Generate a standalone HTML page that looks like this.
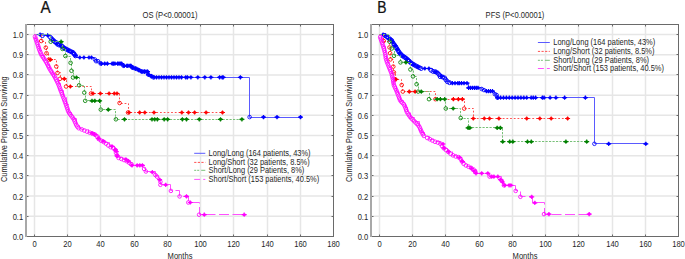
<!DOCTYPE html>
<html><head><meta charset="utf-8"><style>
html,body{margin:0;padding:0;background:#fff;}
svg{display:block;font-family:"Liberation Sans", sans-serif;}
</style></head><body>
<svg width="685" height="259" viewBox="0 0 685 259">
<rect width="685" height="259" fill="#fff"/>
<line x1="34.5" y1="24" x2="34.5" y2="236.5" stroke="#e6e6e6" stroke-width="1.5"/>
<line x1="67.5" y1="24" x2="67.5" y2="236.5" stroke="#e6e6e6" stroke-width="1.5"/>
<line x1="100.5" y1="24" x2="100.5" y2="236.5" stroke="#e6e6e6" stroke-width="1.5"/>
<line x1="134.5" y1="24" x2="134.5" y2="236.5" stroke="#e6e6e6" stroke-width="1.5"/>
<line x1="167.5" y1="24" x2="167.5" y2="236.5" stroke="#e6e6e6" stroke-width="1.5"/>
<line x1="200.5" y1="24" x2="200.5" y2="236.5" stroke="#e6e6e6" stroke-width="1.5"/>
<line x1="233.5" y1="24" x2="233.5" y2="236.5" stroke="#e6e6e6" stroke-width="1.5"/>
<line x1="267.5" y1="24" x2="267.5" y2="236.5" stroke="#e6e6e6" stroke-width="1.5"/>
<line x1="300.5" y1="24" x2="300.5" y2="236.5" stroke="#e6e6e6" stroke-width="1.5"/>
<line x1="26" y1="216.31" x2="333.5" y2="216.31" stroke="#e6e6e6" stroke-width="1.5"/>
<line x1="26" y1="196.12" x2="333.5" y2="196.12" stroke="#e6e6e6" stroke-width="1.5"/>
<line x1="26" y1="175.93" x2="333.5" y2="175.93" stroke="#e6e6e6" stroke-width="1.5"/>
<line x1="26" y1="155.74" x2="333.5" y2="155.74" stroke="#e6e6e6" stroke-width="1.5"/>
<line x1="26" y1="135.55" x2="333.5" y2="135.55" stroke="#e6e6e6" stroke-width="1.5"/>
<line x1="26" y1="115.36" x2="333.5" y2="115.36" stroke="#e6e6e6" stroke-width="1.5"/>
<line x1="26" y1="95.17" x2="333.5" y2="95.17" stroke="#e6e6e6" stroke-width="1.5"/>
<line x1="26" y1="74.98" x2="333.5" y2="74.98" stroke="#e6e6e6" stroke-width="1.5"/>
<line x1="26" y1="54.79" x2="333.5" y2="54.79" stroke="#e6e6e6" stroke-width="1.5"/>
<line x1="26" y1="34.6" x2="333.5" y2="34.6" stroke="#e6e6e6" stroke-width="1.5"/>
<path d="M26,24.5H334.0M333.5,24V237.0M26,236.5H334.0" fill="none" stroke="#6a6a6a" stroke-width="1"/>
<rect x="25" y="24" width="2" height="213.0" fill="#a8a8a8"/>
<line x1="34.5" y1="236.5" x2="34.5" y2="234.5" stroke="#6a6a6a" stroke-width="1"/>
<line x1="34.5" y1="24.5" x2="34.5" y2="26.5" stroke="#6a6a6a" stroke-width="1"/>
<text transform="translate(34.5,247.2) scale(1.0,1.15)" text-anchor="middle" font-size="7.6" fill="#262626">0</text>
<line x1="67.5" y1="236.5" x2="67.5" y2="234.5" stroke="#6a6a6a" stroke-width="1"/>
<line x1="67.5" y1="24.5" x2="67.5" y2="26.5" stroke="#6a6a6a" stroke-width="1"/>
<text transform="translate(67.5,247.2) scale(1.0,1.15)" text-anchor="middle" font-size="7.6" fill="#262626">20</text>
<line x1="100.5" y1="236.5" x2="100.5" y2="234.5" stroke="#6a6a6a" stroke-width="1"/>
<line x1="100.5" y1="24.5" x2="100.5" y2="26.5" stroke="#6a6a6a" stroke-width="1"/>
<text transform="translate(100.5,247.2) scale(1.0,1.15)" text-anchor="middle" font-size="7.6" fill="#262626">40</text>
<line x1="134.5" y1="236.5" x2="134.5" y2="234.5" stroke="#6a6a6a" stroke-width="1"/>
<line x1="134.5" y1="24.5" x2="134.5" y2="26.5" stroke="#6a6a6a" stroke-width="1"/>
<text transform="translate(134.5,247.2) scale(1.0,1.15)" text-anchor="middle" font-size="7.6" fill="#262626">60</text>
<line x1="167.5" y1="236.5" x2="167.5" y2="234.5" stroke="#6a6a6a" stroke-width="1"/>
<line x1="167.5" y1="24.5" x2="167.5" y2="26.5" stroke="#6a6a6a" stroke-width="1"/>
<text transform="translate(167.5,247.2) scale(1.0,1.15)" text-anchor="middle" font-size="7.6" fill="#262626">80</text>
<line x1="200.5" y1="236.5" x2="200.5" y2="234.5" stroke="#6a6a6a" stroke-width="1"/>
<line x1="200.5" y1="24.5" x2="200.5" y2="26.5" stroke="#6a6a6a" stroke-width="1"/>
<text transform="translate(200.5,247.2) scale(1.0,1.15)" text-anchor="middle" font-size="7.6" fill="#262626">100</text>
<line x1="233.5" y1="236.5" x2="233.5" y2="234.5" stroke="#6a6a6a" stroke-width="1"/>
<line x1="233.5" y1="24.5" x2="233.5" y2="26.5" stroke="#6a6a6a" stroke-width="1"/>
<text transform="translate(233.5,247.2) scale(1.0,1.15)" text-anchor="middle" font-size="7.6" fill="#262626">120</text>
<line x1="267.5" y1="236.5" x2="267.5" y2="234.5" stroke="#6a6a6a" stroke-width="1"/>
<line x1="267.5" y1="24.5" x2="267.5" y2="26.5" stroke="#6a6a6a" stroke-width="1"/>
<text transform="translate(267.5,247.2) scale(1.0,1.15)" text-anchor="middle" font-size="7.6" fill="#262626">140</text>
<line x1="300.5" y1="236.5" x2="300.5" y2="234.5" stroke="#6a6a6a" stroke-width="1"/>
<line x1="300.5" y1="24.5" x2="300.5" y2="26.5" stroke="#6a6a6a" stroke-width="1"/>
<text transform="translate(300.5,247.2) scale(1.0,1.15)" text-anchor="middle" font-size="7.6" fill="#262626">160</text>
<text transform="translate(333.5,247.2) scale(1.0,1.15)" text-anchor="middle" font-size="7.6" fill="#262626">180</text>
<text transform="translate(23.2,239.5) scale(1.0,1.15)" text-anchor="end" font-size="7.6" fill="#262626">0.0</text>
<line x1="27" y1="216.5" x2="28.5" y2="216.5" stroke="#6a6a6a" stroke-width="1"/>
<line x1="333.5" y1="216.5" x2="331.5" y2="216.5" stroke="#6a6a6a" stroke-width="1"/>
<text transform="translate(23.2,219.5) scale(1.0,1.15)" text-anchor="end" font-size="7.6" fill="#262626">0.1</text>
<line x1="27" y1="196.5" x2="28.5" y2="196.5" stroke="#6a6a6a" stroke-width="1"/>
<line x1="333.5" y1="196.5" x2="331.5" y2="196.5" stroke="#6a6a6a" stroke-width="1"/>
<text transform="translate(23.2,199.5) scale(1.0,1.15)" text-anchor="end" font-size="7.6" fill="#262626">0.2</text>
<line x1="27" y1="175.5" x2="28.5" y2="175.5" stroke="#6a6a6a" stroke-width="1"/>
<line x1="333.5" y1="175.5" x2="331.5" y2="175.5" stroke="#6a6a6a" stroke-width="1"/>
<text transform="translate(23.2,178.5) scale(1.0,1.15)" text-anchor="end" font-size="7.6" fill="#262626">0.3</text>
<line x1="27" y1="155.5" x2="28.5" y2="155.5" stroke="#6a6a6a" stroke-width="1"/>
<line x1="333.5" y1="155.5" x2="331.5" y2="155.5" stroke="#6a6a6a" stroke-width="1"/>
<text transform="translate(23.2,158.5) scale(1.0,1.15)" text-anchor="end" font-size="7.6" fill="#262626">0.4</text>
<line x1="27" y1="135.5" x2="28.5" y2="135.5" stroke="#6a6a6a" stroke-width="1"/>
<line x1="333.5" y1="135.5" x2="331.5" y2="135.5" stroke="#6a6a6a" stroke-width="1"/>
<text transform="translate(23.2,138.5) scale(1.0,1.15)" text-anchor="end" font-size="7.6" fill="#262626">0.5</text>
<line x1="27" y1="115.5" x2="28.5" y2="115.5" stroke="#6a6a6a" stroke-width="1"/>
<line x1="333.5" y1="115.5" x2="331.5" y2="115.5" stroke="#6a6a6a" stroke-width="1"/>
<text transform="translate(23.2,118.5) scale(1.0,1.15)" text-anchor="end" font-size="7.6" fill="#262626">0.6</text>
<line x1="27" y1="95.5" x2="28.5" y2="95.5" stroke="#6a6a6a" stroke-width="1"/>
<line x1="333.5" y1="95.5" x2="331.5" y2="95.5" stroke="#6a6a6a" stroke-width="1"/>
<text transform="translate(23.2,98.5) scale(1.0,1.15)" text-anchor="end" font-size="7.6" fill="#262626">0.7</text>
<line x1="27" y1="74.5" x2="28.5" y2="74.5" stroke="#6a6a6a" stroke-width="1"/>
<line x1="333.5" y1="74.5" x2="331.5" y2="74.5" stroke="#6a6a6a" stroke-width="1"/>
<text transform="translate(23.2,77.5) scale(1.0,1.15)" text-anchor="end" font-size="7.6" fill="#262626">0.8</text>
<line x1="27" y1="54.5" x2="28.5" y2="54.5" stroke="#6a6a6a" stroke-width="1"/>
<line x1="333.5" y1="54.5" x2="331.5" y2="54.5" stroke="#6a6a6a" stroke-width="1"/>
<text transform="translate(23.2,57.5) scale(1.0,1.15)" text-anchor="end" font-size="7.6" fill="#262626">0.9</text>
<line x1="27" y1="34.5" x2="28.5" y2="34.5" stroke="#6a6a6a" stroke-width="1"/>
<line x1="333.5" y1="34.5" x2="331.5" y2="34.5" stroke="#6a6a6a" stroke-width="1"/>
<text transform="translate(23.2,37.5) scale(1.0,1.15)" text-anchor="end" font-size="7.6" fill="#262626">1.0</text>
<text transform="translate(180,258.6) scale(1.0,1.15)" text-anchor="middle" font-size="7.6" fill="#262626">Months</text>
<text transform="translate(7,129.2) rotate(-90) scale(1,1.15)" text-anchor="middle" font-size="7.4" fill="#262626">Cumulative Proportion Surviving</text>
<text transform="translate(170,18) scale(1.0,1.15)" text-anchor="middle" font-size="7.6" fill="#262626">OS (P&lt;0.00001)</text>
<line x1="379.5" y1="24" x2="379.5" y2="236.5" stroke="#e6e6e6" stroke-width="1.5"/>
<line x1="412.5" y1="24" x2="412.5" y2="236.5" stroke="#e6e6e6" stroke-width="1.5"/>
<line x1="445.5" y1="24" x2="445.5" y2="236.5" stroke="#e6e6e6" stroke-width="1.5"/>
<line x1="479.5" y1="24" x2="479.5" y2="236.5" stroke="#e6e6e6" stroke-width="1.5"/>
<line x1="512.5" y1="24" x2="512.5" y2="236.5" stroke="#e6e6e6" stroke-width="1.5"/>
<line x1="545.5" y1="24" x2="545.5" y2="236.5" stroke="#e6e6e6" stroke-width="1.5"/>
<line x1="578.5" y1="24" x2="578.5" y2="236.5" stroke="#e6e6e6" stroke-width="1.5"/>
<line x1="612.5" y1="24" x2="612.5" y2="236.5" stroke="#e6e6e6" stroke-width="1.5"/>
<line x1="645.5" y1="24" x2="645.5" y2="236.5" stroke="#e6e6e6" stroke-width="1.5"/>
<line x1="371" y1="216.31" x2="678.5" y2="216.31" stroke="#e6e6e6" stroke-width="1.5"/>
<line x1="371" y1="196.12" x2="678.5" y2="196.12" stroke="#e6e6e6" stroke-width="1.5"/>
<line x1="371" y1="175.93" x2="678.5" y2="175.93" stroke="#e6e6e6" stroke-width="1.5"/>
<line x1="371" y1="155.74" x2="678.5" y2="155.74" stroke="#e6e6e6" stroke-width="1.5"/>
<line x1="371" y1="135.55" x2="678.5" y2="135.55" stroke="#e6e6e6" stroke-width="1.5"/>
<line x1="371" y1="115.36" x2="678.5" y2="115.36" stroke="#e6e6e6" stroke-width="1.5"/>
<line x1="371" y1="95.17" x2="678.5" y2="95.17" stroke="#e6e6e6" stroke-width="1.5"/>
<line x1="371" y1="74.98" x2="678.5" y2="74.98" stroke="#e6e6e6" stroke-width="1.5"/>
<line x1="371" y1="54.79" x2="678.5" y2="54.79" stroke="#e6e6e6" stroke-width="1.5"/>
<line x1="371" y1="34.6" x2="678.5" y2="34.6" stroke="#e6e6e6" stroke-width="1.5"/>
<path d="M371,24.5H679.0M678.5,24V237.0M371,236.5H679.0" fill="none" stroke="#6a6a6a" stroke-width="1"/>
<rect x="370" y="24" width="2" height="213.0" fill="#a8a8a8"/>
<line x1="379.5" y1="236.5" x2="379.5" y2="234.5" stroke="#6a6a6a" stroke-width="1"/>
<line x1="379.5" y1="24.5" x2="379.5" y2="26.5" stroke="#6a6a6a" stroke-width="1"/>
<text transform="translate(379.5,247.2) scale(1.0,1.15)" text-anchor="middle" font-size="7.6" fill="#262626">0</text>
<line x1="412.5" y1="236.5" x2="412.5" y2="234.5" stroke="#6a6a6a" stroke-width="1"/>
<line x1="412.5" y1="24.5" x2="412.5" y2="26.5" stroke="#6a6a6a" stroke-width="1"/>
<text transform="translate(412.5,247.2) scale(1.0,1.15)" text-anchor="middle" font-size="7.6" fill="#262626">20</text>
<line x1="445.5" y1="236.5" x2="445.5" y2="234.5" stroke="#6a6a6a" stroke-width="1"/>
<line x1="445.5" y1="24.5" x2="445.5" y2="26.5" stroke="#6a6a6a" stroke-width="1"/>
<text transform="translate(445.5,247.2) scale(1.0,1.15)" text-anchor="middle" font-size="7.6" fill="#262626">40</text>
<line x1="479.5" y1="236.5" x2="479.5" y2="234.5" stroke="#6a6a6a" stroke-width="1"/>
<line x1="479.5" y1="24.5" x2="479.5" y2="26.5" stroke="#6a6a6a" stroke-width="1"/>
<text transform="translate(479.5,247.2) scale(1.0,1.15)" text-anchor="middle" font-size="7.6" fill="#262626">60</text>
<line x1="512.5" y1="236.5" x2="512.5" y2="234.5" stroke="#6a6a6a" stroke-width="1"/>
<line x1="512.5" y1="24.5" x2="512.5" y2="26.5" stroke="#6a6a6a" stroke-width="1"/>
<text transform="translate(512.5,247.2) scale(1.0,1.15)" text-anchor="middle" font-size="7.6" fill="#262626">80</text>
<line x1="545.5" y1="236.5" x2="545.5" y2="234.5" stroke="#6a6a6a" stroke-width="1"/>
<line x1="545.5" y1="24.5" x2="545.5" y2="26.5" stroke="#6a6a6a" stroke-width="1"/>
<text transform="translate(545.5,247.2) scale(1.0,1.15)" text-anchor="middle" font-size="7.6" fill="#262626">100</text>
<line x1="578.5" y1="236.5" x2="578.5" y2="234.5" stroke="#6a6a6a" stroke-width="1"/>
<line x1="578.5" y1="24.5" x2="578.5" y2="26.5" stroke="#6a6a6a" stroke-width="1"/>
<text transform="translate(578.5,247.2) scale(1.0,1.15)" text-anchor="middle" font-size="7.6" fill="#262626">120</text>
<line x1="612.5" y1="236.5" x2="612.5" y2="234.5" stroke="#6a6a6a" stroke-width="1"/>
<line x1="612.5" y1="24.5" x2="612.5" y2="26.5" stroke="#6a6a6a" stroke-width="1"/>
<text transform="translate(612.5,247.2) scale(1.0,1.15)" text-anchor="middle" font-size="7.6" fill="#262626">140</text>
<line x1="645.5" y1="236.5" x2="645.5" y2="234.5" stroke="#6a6a6a" stroke-width="1"/>
<line x1="645.5" y1="24.5" x2="645.5" y2="26.5" stroke="#6a6a6a" stroke-width="1"/>
<text transform="translate(645.5,247.2) scale(1.0,1.15)" text-anchor="middle" font-size="7.6" fill="#262626">160</text>
<text transform="translate(678.5,247.2) scale(1.0,1.15)" text-anchor="middle" font-size="7.6" fill="#262626">180</text>
<text transform="translate(368.2,239.5) scale(1.0,1.15)" text-anchor="end" font-size="7.6" fill="#262626">0.0</text>
<line x1="372" y1="216.5" x2="373.5" y2="216.5" stroke="#6a6a6a" stroke-width="1"/>
<line x1="678.5" y1="216.5" x2="676.5" y2="216.5" stroke="#6a6a6a" stroke-width="1"/>
<text transform="translate(368.2,219.5) scale(1.0,1.15)" text-anchor="end" font-size="7.6" fill="#262626">0.1</text>
<line x1="372" y1="196.5" x2="373.5" y2="196.5" stroke="#6a6a6a" stroke-width="1"/>
<line x1="678.5" y1="196.5" x2="676.5" y2="196.5" stroke="#6a6a6a" stroke-width="1"/>
<text transform="translate(368.2,199.5) scale(1.0,1.15)" text-anchor="end" font-size="7.6" fill="#262626">0.2</text>
<line x1="372" y1="175.5" x2="373.5" y2="175.5" stroke="#6a6a6a" stroke-width="1"/>
<line x1="678.5" y1="175.5" x2="676.5" y2="175.5" stroke="#6a6a6a" stroke-width="1"/>
<text transform="translate(368.2,178.5) scale(1.0,1.15)" text-anchor="end" font-size="7.6" fill="#262626">0.3</text>
<line x1="372" y1="155.5" x2="373.5" y2="155.5" stroke="#6a6a6a" stroke-width="1"/>
<line x1="678.5" y1="155.5" x2="676.5" y2="155.5" stroke="#6a6a6a" stroke-width="1"/>
<text transform="translate(368.2,158.5) scale(1.0,1.15)" text-anchor="end" font-size="7.6" fill="#262626">0.4</text>
<line x1="372" y1="135.5" x2="373.5" y2="135.5" stroke="#6a6a6a" stroke-width="1"/>
<line x1="678.5" y1="135.5" x2="676.5" y2="135.5" stroke="#6a6a6a" stroke-width="1"/>
<text transform="translate(368.2,138.5) scale(1.0,1.15)" text-anchor="end" font-size="7.6" fill="#262626">0.5</text>
<line x1="372" y1="115.5" x2="373.5" y2="115.5" stroke="#6a6a6a" stroke-width="1"/>
<line x1="678.5" y1="115.5" x2="676.5" y2="115.5" stroke="#6a6a6a" stroke-width="1"/>
<text transform="translate(368.2,118.5) scale(1.0,1.15)" text-anchor="end" font-size="7.6" fill="#262626">0.6</text>
<line x1="372" y1="95.5" x2="373.5" y2="95.5" stroke="#6a6a6a" stroke-width="1"/>
<line x1="678.5" y1="95.5" x2="676.5" y2="95.5" stroke="#6a6a6a" stroke-width="1"/>
<text transform="translate(368.2,98.5) scale(1.0,1.15)" text-anchor="end" font-size="7.6" fill="#262626">0.7</text>
<line x1="372" y1="74.5" x2="373.5" y2="74.5" stroke="#6a6a6a" stroke-width="1"/>
<line x1="678.5" y1="74.5" x2="676.5" y2="74.5" stroke="#6a6a6a" stroke-width="1"/>
<text transform="translate(368.2,77.5) scale(1.0,1.15)" text-anchor="end" font-size="7.6" fill="#262626">0.8</text>
<line x1="372" y1="54.5" x2="373.5" y2="54.5" stroke="#6a6a6a" stroke-width="1"/>
<line x1="678.5" y1="54.5" x2="676.5" y2="54.5" stroke="#6a6a6a" stroke-width="1"/>
<text transform="translate(368.2,57.5) scale(1.0,1.15)" text-anchor="end" font-size="7.6" fill="#262626">0.9</text>
<line x1="372" y1="34.5" x2="373.5" y2="34.5" stroke="#6a6a6a" stroke-width="1"/>
<line x1="678.5" y1="34.5" x2="676.5" y2="34.5" stroke="#6a6a6a" stroke-width="1"/>
<text transform="translate(368.2,37.5) scale(1.0,1.15)" text-anchor="end" font-size="7.6" fill="#262626">1.0</text>
<text transform="translate(525,258.6) scale(1.0,1.15)" text-anchor="middle" font-size="7.6" fill="#262626">Months</text>
<text transform="translate(352,129.2) rotate(-90) scale(1,1.15)" text-anchor="middle" font-size="7.4" fill="#262626">Cumulative Proportion Surviving</text>
<text transform="translate(515,18) scale(1.0,1.15)" text-anchor="middle" font-size="7.6" fill="#262626">PFS (P&lt;0.00001)</text>
<text transform="translate(40.4,12.6) scale(0.93,1.0)" text-anchor="start" font-size="16.4" fill="#111" stroke="#111" stroke-width="0.25">A</text>
<text transform="translate(377.3,13) scale(0.85,1.0)" text-anchor="start" font-size="16.4" fill="#111" stroke="#111" stroke-width="0.25">B</text>
<path d="M34.5,34.5H40.5V34.5H42.5V35.5H47.5V35.5H49.5V35.5H50.5V37.5H52.5V39.5H54.5V41.5H56.5V42.5H56.5V43.5H59.5V45.5H61.5V45.5H63.5V47.5H66.5V49.5H69.5V50.5H73.5V52.5H75.5V55.5H76.5V57.5H93.5V57.5H94.5V59.5H96.5V61.5H99.5V61.5H100.5V63.5H121.5V63.5H123.5V65.5H131.5V65.5H132.5V67.5H136.5V68.5H139.5V70.5H141.5V71.5H147.5V71.5H148.5V74.5H151.5V76.5H153.5V77.5H249.5V77.5H249.5V117.5H300.5V117.5" fill="none" stroke="#5a5aff" stroke-width="1"/>
<circle cx="42.4" cy="35.6" r="2.0" fill="none" stroke="#0000ff" stroke-width="0.95"/>
<circle cx="50.45" cy="37.43" r="2.0" fill="none" stroke="#0000ff" stroke-width="0.95"/>
<circle cx="51.82" cy="38.9" r="2.0" fill="none" stroke="#0000ff" stroke-width="0.95"/>
<circle cx="53.22" cy="40.32" r="2.0" fill="none" stroke="#0000ff" stroke-width="0.95"/>
<circle cx="54.68" cy="41.67" r="2.0" fill="none" stroke="#0000ff" stroke-width="0.95"/>
<circle cx="56.31" cy="42.64" r="2.0" fill="none" stroke="#0000ff" stroke-width="0.95"/>
<circle cx="57.43" cy="44.18" r="2.0" fill="none" stroke="#0000ff" stroke-width="0.95"/>
<circle cx="59.21" cy="45.1" r="2.0" fill="none" stroke="#0000ff" stroke-width="0.95"/>
<circle cx="61.16" cy="45.53" r="2.0" fill="none" stroke="#0000ff" stroke-width="0.95"/>
<circle cx="62.64" cy="46.8" r="2.0" fill="none" stroke="#0000ff" stroke-width="0.95"/>
<circle cx="64.22" cy="48" r="2.0" fill="none" stroke="#0000ff" stroke-width="0.95"/>
<circle cx="65.94" cy="49.01" r="2.0" fill="none" stroke="#0000ff" stroke-width="0.95"/>
<circle cx="67.72" cy="49.93" r="2.0" fill="none" stroke="#0000ff" stroke-width="0.95"/>
<circle cx="69.49" cy="50.85" r="2.0" fill="none" stroke="#0000ff" stroke-width="0.95"/>
<circle cx="71.29" cy="51.72" r="2.0" fill="none" stroke="#0000ff" stroke-width="0.95"/>
<circle cx="73.09" cy="52.6" r="2.0" fill="none" stroke="#0000ff" stroke-width="0.95"/>
<circle cx="74.29" cy="54.19" r="2.0" fill="none" stroke="#0000ff" stroke-width="0.95"/>
<circle cx="75.44" cy="55.83" r="2.0" fill="none" stroke="#0000ff" stroke-width="0.95"/>
<circle cx="94.9" cy="59.5" r="1.8" fill="none" stroke="#0000ff" stroke-width="0.85"/>
<circle cx="96.1" cy="61.2" r="1.8" fill="none" stroke="#0000ff" stroke-width="0.85"/>
<circle cx="98" cy="61.2" r="1.8" fill="none" stroke="#0000ff" stroke-width="0.85"/>
<circle cx="100.7" cy="63.6" r="1.8" fill="none" stroke="#0000ff" stroke-width="0.85"/>
<circle cx="123.6" cy="65.8" r="1.8" fill="none" stroke="#0000ff" stroke-width="0.85"/>
<circle cx="132.4" cy="67.6" r="1.8" fill="none" stroke="#0000ff" stroke-width="0.85"/>
<circle cx="134.5" cy="68.2" r="1.8" fill="none" stroke="#0000ff" stroke-width="0.85"/>
<circle cx="136.5" cy="68.9" r="1.8" fill="none" stroke="#0000ff" stroke-width="0.85"/>
<circle cx="139.2" cy="70.3" r="1.8" fill="none" stroke="#0000ff" stroke-width="0.85"/>
<circle cx="141.9" cy="71.6" r="1.8" fill="none" stroke="#0000ff" stroke-width="0.85"/>
<circle cx="148.2" cy="74.5" r="1.8" fill="none" stroke="#0000ff" stroke-width="0.85"/>
<circle cx="151.4" cy="76.2" r="1.8" fill="none" stroke="#0000ff" stroke-width="0.85"/>
<circle cx="153.4" cy="77.3" r="1.8" fill="none" stroke="#0000ff" stroke-width="0.85"/>
<circle cx="249.6" cy="117.1" r="1.8" fill="none" stroke="#0000ff" stroke-width="0.85"/>
<path d="M51.13,40.73H56.13M53.63,38.63V42.83" stroke="#0000ff" stroke-width="1.2" fill="none"/>
<rect x="52.13" y="39.43" width="3" height="2.6" rx="0.7" fill="#0000ff"/>
<path d="M54.27,43.61H59.27M56.77,41.51V45.71" stroke="#0000ff" stroke-width="1.2" fill="none"/>
<rect x="55.27" y="42.31" width="3" height="2.6" rx="0.7" fill="#0000ff"/>
<path d="M58.25,45.44H63.25M60.75,43.34V47.54" stroke="#0000ff" stroke-width="1.2" fill="none"/>
<rect x="59.25" y="44.14" width="3" height="2.6" rx="0.7" fill="#0000ff"/>
<path d="M61.79,48.04H66.79M64.29,45.94V50.14" stroke="#0000ff" stroke-width="1.2" fill="none"/>
<rect x="62.79" y="46.74" width="3" height="2.6" rx="0.7" fill="#0000ff"/>
<path d="M65.73,50.2H70.73M68.23,48.1V52.3" stroke="#0000ff" stroke-width="1.2" fill="none"/>
<rect x="66.73" y="48.9" width="3" height="2.6" rx="0.7" fill="#0000ff"/>
<path d="M69.76,52.19H74.76M72.26,50.09V54.29" stroke="#0000ff" stroke-width="1.2" fill="none"/>
<rect x="70.76" y="50.89" width="3" height="2.6" rx="0.7" fill="#0000ff"/>
<path d="M72.74,55.46H77.74M75.24,53.36V57.56" stroke="#0000ff" stroke-width="1.2" fill="none"/>
<rect x="73.74" y="54.16" width="3" height="2.6" rx="0.7" fill="#0000ff"/>
<path d="M121.52,65.8H126.52M124.02,63.7V67.9" stroke="#0000ff" stroke-width="1.2" fill="none"/>
<rect x="122.52" y="64.5" width="3" height="2.6" rx="0.7" fill="#0000ff"/>
<path d="M124.72,65.8H129.72M127.22,63.7V67.9" stroke="#0000ff" stroke-width="1.2" fill="none"/>
<rect x="125.72" y="64.5" width="3" height="2.6" rx="0.7" fill="#0000ff"/>
<path d="M127.92,65.8H132.92M130.42,63.7V67.9" stroke="#0000ff" stroke-width="1.2" fill="none"/>
<rect x="128.92" y="64.5" width="3" height="2.6" rx="0.7" fill="#0000ff"/>
<path d="M130,67.63H135M132.5,65.53V69.73" stroke="#0000ff" stroke-width="1.2" fill="none"/>
<rect x="131" y="66.33" width="3" height="2.6" rx="0.7" fill="#0000ff"/>
<path d="M133.05,68.6H138.05M135.55,66.5V70.7" stroke="#0000ff" stroke-width="1.2" fill="none"/>
<rect x="134.05" y="67.3" width="3" height="2.6" rx="0.7" fill="#0000ff"/>
<path d="M135.96,69.92H140.96M138.46,67.82V72.02" stroke="#0000ff" stroke-width="1.2" fill="none"/>
<rect x="136.96" y="68.62" width="3" height="2.6" rx="0.7" fill="#0000ff"/>
<path d="M138.83,71.33H143.83M141.33,69.23V73.43" stroke="#0000ff" stroke-width="1.2" fill="none"/>
<rect x="139.83" y="70.03" width="3" height="2.6" rx="0.7" fill="#0000ff"/>
<path d="M141.97,71.6H146.97M144.47,69.5V73.7" stroke="#0000ff" stroke-width="1.2" fill="none"/>
<rect x="142.97" y="70.3" width="3" height="2.6" rx="0.7" fill="#0000ff"/>
<path d="M145.04,71.76H150.04M147.54,69.66V73.86" stroke="#0000ff" stroke-width="1.2" fill="none"/>
<rect x="146.04" y="70.46" width="3" height="2.6" rx="0.7" fill="#0000ff"/>
<path d="M146.04,74.68H151.04M148.54,72.58V76.78" stroke="#0000ff" stroke-width="1.2" fill="none"/>
<rect x="147.04" y="73.38" width="3" height="2.6" rx="0.7" fill="#0000ff"/>
<path d="M148.87,76.18H153.87M151.37,74.08V78.28" stroke="#0000ff" stroke-width="1.2" fill="none"/>
<rect x="149.87" y="74.88" width="3" height="2.6" rx="0.7" fill="#0000ff"/>
<path d="M37.6,34.6H42.6M40.1,32.5V36.7" stroke="#0000ff" stroke-width="1.2" fill="none"/>
<rect x="38.6" y="33.3" width="3" height="2.6" rx="0.7" fill="#0000ff"/>
<path d="M45.1,35.4H50.1M47.6,33.3V37.5" stroke="#0000ff" stroke-width="1.2" fill="none"/>
<rect x="46.1" y="34.1" width="3" height="2.6" rx="0.7" fill="#0000ff"/>
<path d="M77.3,57.5H82.3M79.8,55.4V59.6" stroke="#0000ff" stroke-width="1.2" fill="none"/>
<rect x="78.3" y="56.2" width="3" height="2.6" rx="0.7" fill="#0000ff"/>
<path d="M81.4,57.5H86.4M83.9,55.4V59.6" stroke="#0000ff" stroke-width="1.2" fill="none"/>
<rect x="82.4" y="56.2" width="3" height="2.6" rx="0.7" fill="#0000ff"/>
<path d="M86.5,57.5H91.5M89,55.4V59.6" stroke="#0000ff" stroke-width="1.2" fill="none"/>
<rect x="87.5" y="56.2" width="3" height="2.6" rx="0.7" fill="#0000ff"/>
<path d="M89,57.5H94M91.5,55.4V59.6" stroke="#0000ff" stroke-width="1.2" fill="none"/>
<rect x="90" y="56.2" width="3" height="2.6" rx="0.7" fill="#0000ff"/>
<path d="M99,63.6H104M101.5,61.5V65.7" stroke="#0000ff" stroke-width="1.2" fill="none"/>
<rect x="100" y="62.3" width="3" height="2.6" rx="0.7" fill="#0000ff"/>
<path d="M102.2,63.6H107.2M104.7,61.5V65.7" stroke="#0000ff" stroke-width="1.2" fill="none"/>
<rect x="103.2" y="62.3" width="3" height="2.6" rx="0.7" fill="#0000ff"/>
<path d="M104.9,63.6H109.9M107.4,61.5V65.7" stroke="#0000ff" stroke-width="1.2" fill="none"/>
<rect x="105.9" y="62.3" width="3" height="2.6" rx="0.7" fill="#0000ff"/>
<path d="M109.7,63.6H114.7M112.2,61.5V65.7" stroke="#0000ff" stroke-width="1.2" fill="none"/>
<rect x="110.7" y="62.3" width="3" height="2.6" rx="0.7" fill="#0000ff"/>
<path d="M111,63.6H116M113.5,61.5V65.7" stroke="#0000ff" stroke-width="1.2" fill="none"/>
<rect x="112" y="62.3" width="3" height="2.6" rx="0.7" fill="#0000ff"/>
<path d="M112.4,63.6H117.4M114.9,61.5V65.7" stroke="#0000ff" stroke-width="1.2" fill="none"/>
<rect x="113.4" y="62.3" width="3" height="2.6" rx="0.7" fill="#0000ff"/>
<path d="M115.1,63.6H120.1M117.6,61.5V65.7" stroke="#0000ff" stroke-width="1.2" fill="none"/>
<rect x="116.1" y="62.3" width="3" height="2.6" rx="0.7" fill="#0000ff"/>
<path d="M116.5,63.6H121.5M119,61.5V65.7" stroke="#0000ff" stroke-width="1.2" fill="none"/>
<rect x="117.5" y="62.3" width="3" height="2.6" rx="0.7" fill="#0000ff"/>
<path d="M117.8,63.6H122.8M120.3,61.5V65.7" stroke="#0000ff" stroke-width="1.2" fill="none"/>
<rect x="118.8" y="62.3" width="3" height="2.6" rx="0.7" fill="#0000ff"/>
<path d="M119.1,63.6H124.1M121.6,61.5V65.7" stroke="#0000ff" stroke-width="1.2" fill="none"/>
<rect x="120.1" y="62.3" width="3" height="2.6" rx="0.7" fill="#0000ff"/>
<path d="M124.5,65.8H129.5M127,63.7V67.9" stroke="#0000ff" stroke-width="1.2" fill="none"/>
<rect x="125.5" y="64.5" width="3" height="2.6" rx="0.7" fill="#0000ff"/>
<path d="M126.5,65.8H131.5M129,63.7V67.9" stroke="#0000ff" stroke-width="1.2" fill="none"/>
<rect x="127.5" y="64.5" width="3" height="2.6" rx="0.7" fill="#0000ff"/>
<path d="M128.5,65.8H133.5M131,63.7V67.9" stroke="#0000ff" stroke-width="1.2" fill="none"/>
<rect x="129.5" y="64.5" width="3" height="2.6" rx="0.7" fill="#0000ff"/>
<path d="M140.5,71.6H145.5M143,69.5V73.7" stroke="#0000ff" stroke-width="1.2" fill="none"/>
<rect x="141.5" y="70.3" width="3" height="2.6" rx="0.7" fill="#0000ff"/>
<path d="M142,71.6H147M144.5,69.5V73.7" stroke="#0000ff" stroke-width="1.2" fill="none"/>
<rect x="143" y="70.3" width="3" height="2.6" rx="0.7" fill="#0000ff"/>
<path d="M143.5,71.6H148.5M146,69.5V73.7" stroke="#0000ff" stroke-width="1.2" fill="none"/>
<rect x="144.5" y="70.3" width="3" height="2.6" rx="0.7" fill="#0000ff"/>
<path d="M145,71.6H150M147.5,69.5V73.7" stroke="#0000ff" stroke-width="1.2" fill="none"/>
<rect x="146" y="70.3" width="3" height="2.6" rx="0.7" fill="#0000ff"/>
<path d="M151.5,77.3H156.5M154,75.2V79.4" stroke="#0000ff" stroke-width="1.2" fill="none"/>
<rect x="152.5" y="76" width="3" height="2.6" rx="0.7" fill="#0000ff"/>
<path d="M154,77.3H159M156.5,75.2V79.4" stroke="#0000ff" stroke-width="1.2" fill="none"/>
<rect x="155" y="76" width="3" height="2.6" rx="0.7" fill="#0000ff"/>
<path d="M156.5,77.3H161.5M159,75.2V79.4" stroke="#0000ff" stroke-width="1.2" fill="none"/>
<rect x="157.5" y="76" width="3" height="2.6" rx="0.7" fill="#0000ff"/>
<path d="M159,77.3H164M161.5,75.2V79.4" stroke="#0000ff" stroke-width="1.2" fill="none"/>
<rect x="160" y="76" width="3" height="2.6" rx="0.7" fill="#0000ff"/>
<path d="M161.5,77.3H166.5M164,75.2V79.4" stroke="#0000ff" stroke-width="1.2" fill="none"/>
<rect x="162.5" y="76" width="3" height="2.6" rx="0.7" fill="#0000ff"/>
<path d="M164,77.3H169M166.5,75.2V79.4" stroke="#0000ff" stroke-width="1.2" fill="none"/>
<rect x="165" y="76" width="3" height="2.6" rx="0.7" fill="#0000ff"/>
<path d="M166.5,77.3H171.5M169,75.2V79.4" stroke="#0000ff" stroke-width="1.2" fill="none"/>
<rect x="167.5" y="76" width="3" height="2.6" rx="0.7" fill="#0000ff"/>
<path d="M169,77.3H174M171.5,75.2V79.4" stroke="#0000ff" stroke-width="1.2" fill="none"/>
<rect x="170" y="76" width="3" height="2.6" rx="0.7" fill="#0000ff"/>
<path d="M171.5,77.3H176.5M174,75.2V79.4" stroke="#0000ff" stroke-width="1.2" fill="none"/>
<rect x="172.5" y="76" width="3" height="2.6" rx="0.7" fill="#0000ff"/>
<path d="M174,77.3H179M176.5,75.2V79.4" stroke="#0000ff" stroke-width="1.2" fill="none"/>
<rect x="175" y="76" width="3" height="2.6" rx="0.7" fill="#0000ff"/>
<path d="M176.5,77.3H181.5M179,75.2V79.4" stroke="#0000ff" stroke-width="1.2" fill="none"/>
<rect x="177.5" y="76" width="3" height="2.6" rx="0.7" fill="#0000ff"/>
<path d="M179,77.3H184M181.5,75.2V79.4" stroke="#0000ff" stroke-width="1.2" fill="none"/>
<rect x="180" y="76" width="3" height="2.6" rx="0.7" fill="#0000ff"/>
<path d="M183.2,77.3H188.2M185.7,75.2V79.4" stroke="#0000ff" stroke-width="1.2" fill="none"/>
<rect x="184.2" y="76" width="3" height="2.6" rx="0.7" fill="#0000ff"/>
<path d="M184.9,77.3H189.9M187.4,75.2V79.4" stroke="#0000ff" stroke-width="1.2" fill="none"/>
<rect x="185.9" y="76" width="3" height="2.6" rx="0.7" fill="#0000ff"/>
<path d="M188.4,77.3H193.4M190.9,75.2V79.4" stroke="#0000ff" stroke-width="1.2" fill="none"/>
<rect x="189.4" y="76" width="3" height="2.6" rx="0.7" fill="#0000ff"/>
<path d="M195.3,77.3H200.3M197.8,75.2V79.4" stroke="#0000ff" stroke-width="1.2" fill="none"/>
<rect x="196.3" y="76" width="3" height="2.6" rx="0.7" fill="#0000ff"/>
<path d="M202.3,77.3H207.3M204.8,75.2V79.4" stroke="#0000ff" stroke-width="1.2" fill="none"/>
<rect x="203.3" y="76" width="3" height="2.6" rx="0.7" fill="#0000ff"/>
<path d="M208.4,77.3H213.4M210.9,75.2V79.4" stroke="#0000ff" stroke-width="1.2" fill="none"/>
<rect x="209.4" y="76" width="3" height="2.6" rx="0.7" fill="#0000ff"/>
<path d="M217.1,77.3H222.1M219.6,75.2V79.4" stroke="#0000ff" stroke-width="1.2" fill="none"/>
<rect x="218.1" y="76" width="3" height="2.6" rx="0.7" fill="#0000ff"/>
<path d="M219.7,77.3H224.7M222.2,75.2V79.4" stroke="#0000ff" stroke-width="1.2" fill="none"/>
<rect x="220.7" y="76" width="3" height="2.6" rx="0.7" fill="#0000ff"/>
<path d="M220.7,77.3H225.7M223.2,75.2V79.4" stroke="#0000ff" stroke-width="1.2" fill="none"/>
<rect x="221.7" y="76" width="3" height="2.6" rx="0.7" fill="#0000ff"/>
<path d="M237.9,77.3H242.9M240.4,75.2V79.4" stroke="#0000ff" stroke-width="1.2" fill="none"/>
<rect x="238.9" y="76" width="3" height="2.6" rx="0.7" fill="#0000ff"/>
<path d="M261,117.1H266M263.5,115V119.2" stroke="#0000ff" stroke-width="1.2" fill="none"/>
<rect x="262" y="115.8" width="3" height="2.6" rx="0.7" fill="#0000ff"/>
<path d="M274.5,117.1H279.5M277,115V119.2" stroke="#0000ff" stroke-width="1.2" fill="none"/>
<rect x="275.5" y="115.8" width="3" height="2.6" rx="0.7" fill="#0000ff"/>
<path d="M298,117.1H303M300.5,115V119.2" stroke="#0000ff" stroke-width="1.2" fill="none"/>
<rect x="299" y="115.8" width="3" height="2.6" rx="0.7" fill="#0000ff"/>
<path d="M34.5,34.5H41.5V41.5H45.5V47.5H46.5V53.5H48.5V59.5H56.5V66.5H57.5V72.5H60.5V78.5H66.5V86.5H91.5V93.5H119.5V103.5H128.5V112.5H222.5V112.5" fill="none" stroke="#ff5050" stroke-width="1" stroke-dasharray="1.8 1.9"/>
<circle cx="41.2" cy="41" r="1.8" fill="none" stroke="#ff0000" stroke-width="0.85"/>
<circle cx="45.8" cy="47.6" r="1.8" fill="none" stroke="#ff0000" stroke-width="0.85"/>
<circle cx="46.5" cy="53.2" r="1.8" fill="none" stroke="#ff0000" stroke-width="0.85"/>
<circle cx="48.8" cy="59.6" r="1.8" fill="none" stroke="#ff0000" stroke-width="0.85"/>
<circle cx="56.3" cy="66.5" r="1.8" fill="none" stroke="#ff0000" stroke-width="0.85"/>
<circle cx="57.5" cy="72.9" r="1.8" fill="none" stroke="#ff0000" stroke-width="0.85"/>
<circle cx="60" cy="78.8" r="1.8" fill="none" stroke="#ff0000" stroke-width="0.85"/>
<circle cx="66.1" cy="86.5" r="1.8" fill="none" stroke="#ff0000" stroke-width="0.85"/>
<circle cx="91" cy="93.5" r="1.8" fill="none" stroke="#ff0000" stroke-width="0.85"/>
<circle cx="119.6" cy="103" r="1.8" fill="none" stroke="#ff0000" stroke-width="0.85"/>
<circle cx="128" cy="112.5" r="1.8" fill="none" stroke="#ff0000" stroke-width="0.85"/>
<path d="M48,59.6H53M50.5,57.5V61.7" stroke="#ff0000" stroke-width="1.2" fill="none"/>
<rect x="49" y="58.3" width="3" height="2.6" rx="0.7" fill="#ff0000"/>
<path d="M61.8,78.8H66.8M64.3,76.7V80.9" stroke="#ff0000" stroke-width="1.2" fill="none"/>
<rect x="62.8" y="77.5" width="3" height="2.6" rx="0.7" fill="#ff0000"/>
<path d="M67.9,86.5H72.9M70.4,84.4V88.6" stroke="#ff0000" stroke-width="1.2" fill="none"/>
<rect x="68.9" y="85.2" width="3" height="2.6" rx="0.7" fill="#ff0000"/>
<path d="M90.5,93.5H95.5M93,91.4V95.6" stroke="#ff0000" stroke-width="1.2" fill="none"/>
<rect x="91.5" y="92.2" width="3" height="2.6" rx="0.7" fill="#ff0000"/>
<path d="M97.9,93.5H102.9M100.4,91.4V95.6" stroke="#ff0000" stroke-width="1.2" fill="none"/>
<rect x="98.9" y="92.2" width="3" height="2.6" rx="0.7" fill="#ff0000"/>
<path d="M106.6,93.5H111.6M109.1,91.4V95.6" stroke="#ff0000" stroke-width="1.2" fill="none"/>
<rect x="107.6" y="92.2" width="3" height="2.6" rx="0.7" fill="#ff0000"/>
<path d="M111.8,93.5H116.8M114.3,91.4V95.6" stroke="#ff0000" stroke-width="1.2" fill="none"/>
<rect x="112.8" y="92.2" width="3" height="2.6" rx="0.7" fill="#ff0000"/>
<path d="M114.5,93.5H119.5M117,91.4V95.6" stroke="#ff0000" stroke-width="1.2" fill="none"/>
<rect x="115.5" y="92.2" width="3" height="2.6" rx="0.7" fill="#ff0000"/>
<path d="M126.6,112.5H131.6M129.1,110.4V114.6" stroke="#ff0000" stroke-width="1.2" fill="none"/>
<rect x="127.6" y="111.2" width="3" height="2.6" rx="0.7" fill="#ff0000"/>
<path d="M137.1,112.5H142.1M139.6,110.4V114.6" stroke="#ff0000" stroke-width="1.2" fill="none"/>
<rect x="138.1" y="111.2" width="3" height="2.6" rx="0.7" fill="#ff0000"/>
<path d="M142.3,112.5H147.3M144.8,110.4V114.6" stroke="#ff0000" stroke-width="1.2" fill="none"/>
<rect x="143.3" y="111.2" width="3" height="2.6" rx="0.7" fill="#ff0000"/>
<path d="M151.5,112.5H156.5M154,110.4V114.6" stroke="#ff0000" stroke-width="1.2" fill="none"/>
<rect x="152.5" y="111.2" width="3" height="2.6" rx="0.7" fill="#ff0000"/>
<path d="M179.3,112.5H184.3M181.8,110.4V114.6" stroke="#ff0000" stroke-width="1.2" fill="none"/>
<rect x="180.3" y="111.2" width="3" height="2.6" rx="0.7" fill="#ff0000"/>
<path d="M186,112.5H191M188.5,110.4V114.6" stroke="#ff0000" stroke-width="1.2" fill="none"/>
<rect x="187" y="111.2" width="3" height="2.6" rx="0.7" fill="#ff0000"/>
<path d="M192.1,112.5H197.1M194.6,110.4V114.6" stroke="#ff0000" stroke-width="1.2" fill="none"/>
<rect x="193.1" y="111.2" width="3" height="2.6" rx="0.7" fill="#ff0000"/>
<path d="M203.6,112.5H208.6M206.1,110.4V114.6" stroke="#ff0000" stroke-width="1.2" fill="none"/>
<rect x="204.6" y="111.2" width="3" height="2.6" rx="0.7" fill="#ff0000"/>
<path d="M220,112.5H225M222.5,110.4V114.6" stroke="#ff0000" stroke-width="1.2" fill="none"/>
<rect x="221" y="111.2" width="3" height="2.6" rx="0.7" fill="#ff0000"/>
<path d="M34.5,34.5H50.5V41.5H62.5V48.5H65.5V56.5H70.5V62.5H71.5V70.5H73.5V77.5H79.5V85.5H84.5V92.5H85.5V100.5H100.5V109.5H115.5V119.5H241.5V119.5" fill="none" stroke="#78c078" stroke-width="1" stroke-dasharray="2.2 1.3"/>
<circle cx="50.7" cy="41.7" r="1.8" fill="none" stroke="#008000" stroke-width="0.85"/>
<circle cx="62.5" cy="48.9" r="1.8" fill="none" stroke="#008000" stroke-width="0.85"/>
<circle cx="65.4" cy="56" r="1.8" fill="none" stroke="#008000" stroke-width="0.85"/>
<circle cx="70.6" cy="62.8" r="1.8" fill="none" stroke="#008000" stroke-width="0.85"/>
<circle cx="71.5" cy="70.8" r="1.8" fill="none" stroke="#008000" stroke-width="0.85"/>
<circle cx="73" cy="77.5" r="1.8" fill="none" stroke="#008000" stroke-width="0.85"/>
<circle cx="79.1" cy="85.3" r="1.8" fill="none" stroke="#008000" stroke-width="0.85"/>
<circle cx="84.3" cy="92.6" r="1.8" fill="none" stroke="#008000" stroke-width="0.85"/>
<circle cx="85.2" cy="100.8" r="1.8" fill="none" stroke="#008000" stroke-width="0.85"/>
<circle cx="100.8" cy="109.6" r="1.8" fill="none" stroke="#008000" stroke-width="0.85"/>
<circle cx="115.9" cy="119.3" r="1.8" fill="none" stroke="#008000" stroke-width="0.85"/>
<path d="M58.6,41.7H63.6M61.1,39.6V43.8" stroke="#008000" stroke-width="1.2" fill="none"/>
<rect x="59.6" y="40.4" width="3" height="2.6" rx="0.7" fill="#008000"/>
<path d="M74,77.5H79M76.5,75.4V79.6" stroke="#008000" stroke-width="1.2" fill="none"/>
<rect x="75" y="76.2" width="3" height="2.6" rx="0.7" fill="#008000"/>
<path d="M89.5,100.8H94.5M92,98.7V102.9" stroke="#008000" stroke-width="1.2" fill="none"/>
<rect x="90.5" y="99.5" width="3" height="2.6" rx="0.7" fill="#008000"/>
<path d="M92.3,100.8H97.3M94.8,98.7V102.9" stroke="#008000" stroke-width="1.2" fill="none"/>
<rect x="93.3" y="99.5" width="3" height="2.6" rx="0.7" fill="#008000"/>
<path d="M97.1,100.8H102.1M99.6,98.7V102.9" stroke="#008000" stroke-width="1.2" fill="none"/>
<rect x="98.1" y="99.5" width="3" height="2.6" rx="0.7" fill="#008000"/>
<path d="M105.8,109.6H110.8M108.3,107.5V111.7" stroke="#008000" stroke-width="1.2" fill="none"/>
<rect x="106.8" y="108.3" width="3" height="2.6" rx="0.7" fill="#008000"/>
<path d="M122,119.3H127M124.5,117.2V121.4" stroke="#008000" stroke-width="1.2" fill="none"/>
<rect x="123" y="118" width="3" height="2.6" rx="0.7" fill="#008000"/>
<path d="M149.5,119.3H154.5M152,117.2V121.4" stroke="#008000" stroke-width="1.2" fill="none"/>
<rect x="150.5" y="118" width="3" height="2.6" rx="0.7" fill="#008000"/>
<path d="M152.2,119.3H157.2M154.7,117.2V121.4" stroke="#008000" stroke-width="1.2" fill="none"/>
<rect x="153.2" y="118" width="3" height="2.6" rx="0.7" fill="#008000"/>
<path d="M154.9,119.3H159.9M157.4,117.2V121.4" stroke="#008000" stroke-width="1.2" fill="none"/>
<rect x="155.9" y="118" width="3" height="2.6" rx="0.7" fill="#008000"/>
<path d="M161.7,119.3H166.7M164.2,117.2V121.4" stroke="#008000" stroke-width="1.2" fill="none"/>
<rect x="162.7" y="118" width="3" height="2.6" rx="0.7" fill="#008000"/>
<path d="M165.1,119.3H170.1M167.6,117.2V121.4" stroke="#008000" stroke-width="1.2" fill="none"/>
<rect x="166.1" y="118" width="3" height="2.6" rx="0.7" fill="#008000"/>
<path d="M179.9,119.3H184.9M182.4,117.2V121.4" stroke="#008000" stroke-width="1.2" fill="none"/>
<rect x="180.9" y="118" width="3" height="2.6" rx="0.7" fill="#008000"/>
<path d="M184,119.3H189M186.5,117.2V121.4" stroke="#008000" stroke-width="1.2" fill="none"/>
<rect x="185" y="118" width="3" height="2.6" rx="0.7" fill="#008000"/>
<path d="M196.8,119.3H201.8M199.3,117.2V121.4" stroke="#008000" stroke-width="1.2" fill="none"/>
<rect x="197.8" y="118" width="3" height="2.6" rx="0.7" fill="#008000"/>
<path d="M218,119.3H223M220.5,117.2V121.4" stroke="#008000" stroke-width="1.2" fill="none"/>
<rect x="219" y="118" width="3" height="2.6" rx="0.7" fill="#008000"/>
<path d="M239.4,119.3H244.4M241.9,117.2V121.4" stroke="#008000" stroke-width="1.2" fill="none"/>
<rect x="240.4" y="118" width="3" height="2.6" rx="0.7" fill="#008000"/>
<path d="M34.5,34.5H35.5V38.5H36.5V41.5H38.5V46.5H39.5V50.5H41.5V55.5H44.5V59.5H47.5V64.5H49.5V68.5H52.5V73.5H54.5V77.5H58.5V83.5H60.5V90.5H63.5V97.5H66.5V104.5H68.5V112.5H71.5V115.5H73.5V118.5H76.5V125.5H79.5V128.5H81.5V129.5H88.5V132.5H95.5V134.5H97.5V136.5H99.5V139.5H104.5V142.5H109.5V146.5H114.5V148.5H115.5V149.5H116.5V154.5H118.5V157.5H122.5V159.5H126.5V161.5H129.5V162.5H132.5V165.5H144.5V168.5H145.5V171.5H155.5V175.5H157.5V176.5H159.5V179.5H160.5V181.5H160.5V184.5H170.5V190.5H179.5V196.5H188.5V202.5H199.5V214.5H244.5V214.5" fill="none" stroke="#ff50ff" stroke-width="1" stroke-dasharray="10 3.5"/>
<circle cx="35.02" cy="36.77" r="1.9" fill="none" stroke="#ff00ff" stroke-width="0.8"/>
<circle cx="35.71" cy="38.64" r="1.9" fill="none" stroke="#ff00ff" stroke-width="0.8"/>
<circle cx="36.35" cy="40.54" r="1.9" fill="none" stroke="#ff00ff" stroke-width="0.8"/>
<circle cx="36.97" cy="42.44" r="1.9" fill="none" stroke="#ff00ff" stroke-width="0.8"/>
<circle cx="37.59" cy="44.34" r="1.9" fill="none" stroke="#ff00ff" stroke-width="0.8"/>
<circle cx="38.22" cy="46.24" r="1.9" fill="none" stroke="#ff00ff" stroke-width="0.8"/>
<circle cx="38.82" cy="48.15" r="1.9" fill="none" stroke="#ff00ff" stroke-width="0.8"/>
<circle cx="39.42" cy="50.05" r="1.9" fill="none" stroke="#ff00ff" stroke-width="0.8"/>
<circle cx="40.18" cy="51.9" r="1.9" fill="none" stroke="#ff00ff" stroke-width="0.8"/>
<circle cx="40.97" cy="53.74" r="1.9" fill="none" stroke="#ff00ff" stroke-width="0.8"/>
<circle cx="41.86" cy="55.52" r="1.9" fill="none" stroke="#ff00ff" stroke-width="0.8"/>
<circle cx="43" cy="57.16" r="1.9" fill="none" stroke="#ff00ff" stroke-width="0.8"/>
<circle cx="44.15" cy="58.8" r="1.9" fill="none" stroke="#ff00ff" stroke-width="0.8"/>
<circle cx="45.22" cy="60.49" r="1.9" fill="none" stroke="#ff00ff" stroke-width="0.8"/>
<circle cx="46.23" cy="62.21" r="1.9" fill="none" stroke="#ff00ff" stroke-width="0.8"/>
<circle cx="47.25" cy="63.94" r="1.9" fill="none" stroke="#ff00ff" stroke-width="0.8"/>
<circle cx="48.15" cy="65.72" r="1.9" fill="none" stroke="#ff00ff" stroke-width="0.8"/>
<circle cx="49.02" cy="67.52" r="1.9" fill="none" stroke="#ff00ff" stroke-width="0.8"/>
<circle cx="49.95" cy="69.29" r="1.9" fill="none" stroke="#ff00ff" stroke-width="0.8"/>
<circle cx="51.01" cy="70.98" r="1.9" fill="none" stroke="#ff00ff" stroke-width="0.8"/>
<circle cx="52.08" cy="72.68" r="1.9" fill="none" stroke="#ff00ff" stroke-width="0.8"/>
<circle cx="53.16" cy="74.36" r="1.9" fill="none" stroke="#ff00ff" stroke-width="0.8"/>
<circle cx="54.26" cy="76.03" r="1.9" fill="none" stroke="#ff00ff" stroke-width="0.8"/>
<circle cx="55.27" cy="77.75" r="1.9" fill="none" stroke="#ff00ff" stroke-width="0.8"/>
<circle cx="56.15" cy="79.55" r="1.9" fill="none" stroke="#ff00ff" stroke-width="0.8"/>
<circle cx="57.04" cy="81.34" r="1.9" fill="none" stroke="#ff00ff" stroke-width="0.8"/>
<circle cx="57.92" cy="83.13" r="1.9" fill="none" stroke="#ff00ff" stroke-width="0.8"/>
<circle cx="58.7" cy="84.97" r="1.9" fill="none" stroke="#ff00ff" stroke-width="0.8"/>
<circle cx="59.4" cy="86.85" r="1.9" fill="none" stroke="#ff00ff" stroke-width="0.8"/>
<circle cx="60.09" cy="88.72" r="1.9" fill="none" stroke="#ff00ff" stroke-width="0.8"/>
<circle cx="60.79" cy="90.6" r="1.9" fill="none" stroke="#ff00ff" stroke-width="0.8"/>
<circle cx="61.49" cy="92.47" r="1.9" fill="none" stroke="#ff00ff" stroke-width="0.8"/>
<circle cx="62.2" cy="94.34" r="1.9" fill="none" stroke="#ff00ff" stroke-width="0.8"/>
<circle cx="62.9" cy="96.21" r="1.9" fill="none" stroke="#ff00ff" stroke-width="0.8"/>
<circle cx="63.61" cy="98.09" r="1.9" fill="none" stroke="#ff00ff" stroke-width="0.8"/>
<circle cx="64.3" cy="99.96" r="1.9" fill="none" stroke="#ff00ff" stroke-width="0.8"/>
<circle cx="65" cy="101.84" r="1.9" fill="none" stroke="#ff00ff" stroke-width="0.8"/>
<circle cx="65.7" cy="103.71" r="1.9" fill="none" stroke="#ff00ff" stroke-width="0.8"/>
<circle cx="66.36" cy="105.59" r="1.9" fill="none" stroke="#ff00ff" stroke-width="0.8"/>
<circle cx="67" cy="107.49" r="1.9" fill="none" stroke="#ff00ff" stroke-width="0.8"/>
<circle cx="67.63" cy="109.39" r="1.9" fill="none" stroke="#ff00ff" stroke-width="0.8"/>
<circle cx="68.26" cy="111.29" r="1.9" fill="none" stroke="#ff00ff" stroke-width="0.8"/>
<circle cx="69.23" cy="113.02" r="1.9" fill="none" stroke="#ff00ff" stroke-width="0.8"/>
<circle cx="70.39" cy="114.64" r="1.9" fill="none" stroke="#ff00ff" stroke-width="0.8"/>
<circle cx="71.59" cy="116.24" r="1.9" fill="none" stroke="#ff00ff" stroke-width="0.8"/>
<circle cx="72.83" cy="117.81" r="1.9" fill="none" stroke="#ff00ff" stroke-width="0.8"/>
<circle cx="73.94" cy="119.46" r="1.9" fill="none" stroke="#ff00ff" stroke-width="0.8"/>
<circle cx="74.73" cy="121.29" r="1.9" fill="none" stroke="#ff00ff" stroke-width="0.8"/>
<circle cx="75.51" cy="123.13" r="1.9" fill="none" stroke="#ff00ff" stroke-width="0.8"/>
<circle cx="76.3" cy="124.97" r="1.9" fill="none" stroke="#ff00ff" stroke-width="0.8"/>
<circle cx="77.36" cy="126.64" r="1.9" fill="none" stroke="#ff00ff" stroke-width="0.8"/>
<circle cx="78.68" cy="128.14" r="1.9" fill="none" stroke="#ff00ff" stroke-width="0.8"/>
<circle cx="81.68" cy="129.37" r="1.9" fill="none" stroke="#ff00ff" stroke-width="0.8"/>
<circle cx="84.36" cy="130.49" r="1.9" fill="none" stroke="#ff00ff" stroke-width="0.8"/>
<circle cx="87.03" cy="131.6" r="1.9" fill="none" stroke="#ff00ff" stroke-width="0.8"/>
<circle cx="89.74" cy="132.65" r="1.9" fill="none" stroke="#ff00ff" stroke-width="0.8"/>
<circle cx="92.46" cy="133.66" r="1.9" fill="none" stroke="#ff00ff" stroke-width="0.8"/>
<circle cx="95.15" cy="134.71" r="1.9" fill="none" stroke="#ff00ff" stroke-width="0.8"/>
<circle cx="97.33" cy="136.55" r="1.9" fill="none" stroke="#ff00ff" stroke-width="0.8"/>
<circle cx="98.84" cy="139.03" r="1.9" fill="none" stroke="#ff00ff" stroke-width="0.8"/>
<circle cx="101.1" cy="140.68" r="1.9" fill="none" stroke="#ff00ff" stroke-width="0.8"/>
<circle cx="103.7" cy="141.96" r="1.9" fill="none" stroke="#ff00ff" stroke-width="0.8"/>
<circle cx="106.06" cy="143.61" r="1.9" fill="none" stroke="#ff00ff" stroke-width="0.8"/>
<circle cx="108.3" cy="145.46" r="1.9" fill="none" stroke="#ff00ff" stroke-width="0.8"/>
<circle cx="110.68" cy="147.07" r="1.9" fill="none" stroke="#ff00ff" stroke-width="0.8"/>
<circle cx="113.35" cy="148.19" r="1.9" fill="none" stroke="#ff00ff" stroke-width="0.8"/>
<circle cx="115.45" cy="150.05" r="1.9" fill="none" stroke="#ff00ff" stroke-width="0.8"/>
<circle cx="116.05" cy="152.89" r="1.9" fill="none" stroke="#ff00ff" stroke-width="0.8"/>
<circle cx="117.03" cy="155.59" r="1.9" fill="none" stroke="#ff00ff" stroke-width="0.8"/>
<circle cx="118.62" cy="157.84" r="1.9" fill="none" stroke="#ff00ff" stroke-width="0.8"/>
<circle cx="121.33" cy="158.89" r="1.9" fill="none" stroke="#ff00ff" stroke-width="0.8"/>
<circle cx="124.02" cy="159.98" r="1.9" fill="none" stroke="#ff00ff" stroke-width="0.8"/>
<circle cx="126.69" cy="161.1" r="1.9" fill="none" stroke="#ff00ff" stroke-width="0.8"/>
<circle cx="129.12" cy="162.68" r="1.9" fill="none" stroke="#ff00ff" stroke-width="0.8"/>
<circle cx="131.45" cy="164.4" r="1.9" fill="none" stroke="#ff00ff" stroke-width="0.8"/>
<circle cx="144.1" cy="168.9" r="1.8" fill="none" stroke="#ff00ff" stroke-width="0.85"/>
<circle cx="145.9" cy="171.5" r="1.8" fill="none" stroke="#ff00ff" stroke-width="0.85"/>
<circle cx="155.4" cy="175" r="1.8" fill="none" stroke="#ff00ff" stroke-width="0.85"/>
<circle cx="157" cy="176.6" r="1.8" fill="none" stroke="#ff00ff" stroke-width="0.85"/>
<circle cx="160.4" cy="181.8" r="1.8" fill="none" stroke="#ff00ff" stroke-width="0.85"/>
<circle cx="160.4" cy="184.8" r="1.8" fill="none" stroke="#ff00ff" stroke-width="0.85"/>
<circle cx="170.9" cy="190.9" r="1.8" fill="none" stroke="#ff00ff" stroke-width="0.85"/>
<circle cx="179.6" cy="196.4" r="1.8" fill="none" stroke="#ff00ff" stroke-width="0.85"/>
<circle cx="188.3" cy="202.5" r="1.8" fill="none" stroke="#ff00ff" stroke-width="0.85"/>
<circle cx="199.1" cy="214.7" r="1.8" fill="none" stroke="#ff00ff" stroke-width="0.85"/>
<path d="M89.5,133H94.5M92,130.9V135.1" stroke="#ff00ff" stroke-width="1.2" fill="none"/>
<rect x="90.5" y="131.7" width="3" height="2.6" rx="0.7" fill="#ff00ff"/>
<path d="M92,134.3H97M94.5,132.2V136.4" stroke="#ff00ff" stroke-width="1.2" fill="none"/>
<rect x="93" y="133" width="3" height="2.6" rx="0.7" fill="#ff00ff"/>
<path d="M95.7,138.5H100.7M98.2,136.4V140.6" stroke="#ff00ff" stroke-width="1.2" fill="none"/>
<rect x="96.7" y="137.2" width="3" height="2.6" rx="0.7" fill="#ff00ff"/>
<path d="M100.5,141H105.5M103,138.9V143.1" stroke="#ff00ff" stroke-width="1.2" fill="none"/>
<rect x="101.5" y="139.7" width="3" height="2.6" rx="0.7" fill="#ff00ff"/>
<path d="M109.5,146.3H114.5M112,144.2V148.4" stroke="#ff00ff" stroke-width="1.2" fill="none"/>
<rect x="110.5" y="145" width="3" height="2.6" rx="0.7" fill="#ff00ff"/>
<path d="M112.9,149.8H117.9M115.4,147.7V151.9" stroke="#ff00ff" stroke-width="1.2" fill="none"/>
<rect x="113.9" y="148.5" width="3" height="2.6" rx="0.7" fill="#ff00ff"/>
<path d="M113.8,151.5H118.8M116.3,149.4V153.6" stroke="#ff00ff" stroke-width="1.2" fill="none"/>
<rect x="114.8" y="150.2" width="3" height="2.6" rx="0.7" fill="#ff00ff"/>
<path d="M114.7,155.9H119.7M117.2,153.8V158" stroke="#ff00ff" stroke-width="1.2" fill="none"/>
<rect x="115.7" y="154.6" width="3" height="2.6" rx="0.7" fill="#ff00ff"/>
<path d="M123.4,159.3H128.4M125.9,157.2V161.4" stroke="#ff00ff" stroke-width="1.2" fill="none"/>
<rect x="124.4" y="158" width="3" height="2.6" rx="0.7" fill="#ff00ff"/>
<path d="M126,161.1H131M128.5,159V163.2" stroke="#ff00ff" stroke-width="1.2" fill="none"/>
<rect x="127" y="159.8" width="3" height="2.6" rx="0.7" fill="#ff00ff"/>
<path d="M129.5,165.4H134.5M132,163.3V167.5" stroke="#ff00ff" stroke-width="1.2" fill="none"/>
<rect x="130.5" y="164.1" width="3" height="2.6" rx="0.7" fill="#ff00ff"/>
<path d="M134.7,165.4H139.7M137.2,163.3V167.5" stroke="#ff00ff" stroke-width="1.2" fill="none"/>
<rect x="135.7" y="164.1" width="3" height="2.6" rx="0.7" fill="#ff00ff"/>
<path d="M137.3,165.4H142.3M139.8,163.3V167.5" stroke="#ff00ff" stroke-width="1.2" fill="none"/>
<rect x="138.3" y="164.1" width="3" height="2.6" rx="0.7" fill="#ff00ff"/>
<path d="M139.9,165.4H144.9M142.4,163.3V167.5" stroke="#ff00ff" stroke-width="1.2" fill="none"/>
<rect x="140.9" y="164.1" width="3" height="2.6" rx="0.7" fill="#ff00ff"/>
<path d="M149.8,172.2H154.8M152.3,170.1V174.3" stroke="#ff00ff" stroke-width="1.2" fill="none"/>
<rect x="150.8" y="170.9" width="3" height="2.6" rx="0.7" fill="#ff00ff"/>
<path d="M157.1,179.6H162.1M159.6,177.5V181.7" stroke="#ff00ff" stroke-width="1.2" fill="none"/>
<rect x="158.1" y="178.3" width="3" height="2.6" rx="0.7" fill="#ff00ff"/>
<path d="M163.2,184.8H168.2M165.7,182.7V186.9" stroke="#ff00ff" stroke-width="1.2" fill="none"/>
<rect x="164.2" y="183.5" width="3" height="2.6" rx="0.7" fill="#ff00ff"/>
<path d="M184,196.4H189M186.5,194.3V198.5" stroke="#ff00ff" stroke-width="1.2" fill="none"/>
<rect x="185" y="195.1" width="3" height="2.6" rx="0.7" fill="#ff00ff"/>
<path d="M187.8,202.5H192.8M190.3,200.4V204.6" stroke="#ff00ff" stroke-width="1.2" fill="none"/>
<rect x="188.8" y="201.2" width="3" height="2.6" rx="0.7" fill="#ff00ff"/>
<path d="M201.8,214.7H206.8M204.3,212.6V216.8" stroke="#ff00ff" stroke-width="1.2" fill="none"/>
<rect x="202.8" y="213.4" width="3" height="2.6" rx="0.7" fill="#ff00ff"/>
<path d="M241.7,214.7H246.7M244.2,212.6V216.8" stroke="#ff00ff" stroke-width="1.2" fill="none"/>
<rect x="242.7" y="213.4" width="3" height="2.6" rx="0.7" fill="#ff00ff"/>
<path d="M379.5,34.5H383.5V34.5H386.5V36.5H389.5V38.5H391.5V39.5H393.5V43.5H395.5V45.5H396.5V48.5H397.5V50.5H399.5V52.5H400.5V54.5H402.5V55.5H403.5V56.5H405.5V57.5H407.5V59.5H410.5V62.5H413.5V64.5H415.5V65.5H418.5V67.5H421.5V68.5H429.5V68.5H432.5V71.5H436.5V71.5H438.5V73.5H440.5V76.5H444.5V77.5H446.5V81.5H450.5V83.5H468.5V83.5H468.5V87.5H479.5V87.5H481.5V89.5H484.5V90.5H485.5V91.5H493.5V91.5H494.5V94.5H496.5V95.5H497.5V97.5H594.5V97.5H594.5V143.5H645.5V143.5" fill="none" stroke="#5a5aff" stroke-width="1"/>
<circle cx="384.97" cy="35.61" r="2.0" fill="none" stroke="#0000ff" stroke-width="0.95"/>
<circle cx="386.69" cy="36.58" r="2.0" fill="none" stroke="#0000ff" stroke-width="0.95"/>
<circle cx="388.23" cy="37.86" r="2.0" fill="none" stroke="#0000ff" stroke-width="0.95"/>
<circle cx="389.87" cy="38.98" r="2.0" fill="none" stroke="#0000ff" stroke-width="0.95"/>
<circle cx="391.36" cy="40.21" r="2.0" fill="none" stroke="#0000ff" stroke-width="0.95"/>
<circle cx="392.37" cy="41.94" r="2.0" fill="none" stroke="#0000ff" stroke-width="0.95"/>
<circle cx="393.47" cy="43.61" r="2.0" fill="none" stroke="#0000ff" stroke-width="0.95"/>
<circle cx="394.69" cy="45.19" r="2.0" fill="none" stroke="#0000ff" stroke-width="0.95"/>
<circle cx="395.79" cy="46.86" r="2.0" fill="none" stroke="#0000ff" stroke-width="0.95"/>
<circle cx="396.84" cy="48.56" r="2.0" fill="none" stroke="#0000ff" stroke-width="0.95"/>
<circle cx="397.88" cy="50.27" r="2.0" fill="none" stroke="#0000ff" stroke-width="0.95"/>
<circle cx="398.99" cy="51.93" r="2.0" fill="none" stroke="#0000ff" stroke-width="0.95"/>
<circle cx="400.16" cy="53.55" r="2.0" fill="none" stroke="#0000ff" stroke-width="0.95"/>
<circle cx="401.52" cy="55.02" r="2.0" fill="none" stroke="#0000ff" stroke-width="0.95"/>
<circle cx="403.12" cy="56.19" r="2.0" fill="none" stroke="#0000ff" stroke-width="0.95"/>
<circle cx="404.79" cy="57.3" r="2.0" fill="none" stroke="#0000ff" stroke-width="0.95"/>
<circle cx="406.36" cy="58.53" r="2.0" fill="none" stroke="#0000ff" stroke-width="0.95"/>
<circle cx="407.85" cy="59.85" r="2.0" fill="none" stroke="#0000ff" stroke-width="0.95"/>
<circle cx="409.27" cy="61.27" r="2.0" fill="none" stroke="#0000ff" stroke-width="0.95"/>
<circle cx="410.73" cy="62.63" r="2.0" fill="none" stroke="#0000ff" stroke-width="0.95"/>
<circle cx="412.37" cy="63.77" r="2.0" fill="none" stroke="#0000ff" stroke-width="0.95"/>
<circle cx="414.07" cy="64.81" r="2.0" fill="none" stroke="#0000ff" stroke-width="0.95"/>
<circle cx="415.81" cy="65.81" r="2.0" fill="none" stroke="#0000ff" stroke-width="0.95"/>
<circle cx="417.59" cy="66.73" r="2.0" fill="none" stroke="#0000ff" stroke-width="0.95"/>
<circle cx="419.38" cy="67.62" r="2.0" fill="none" stroke="#0000ff" stroke-width="0.95"/>
<circle cx="421.18" cy="68.49" r="2.0" fill="none" stroke="#0000ff" stroke-width="0.95"/>
<circle cx="431" cy="70.2" r="2.0" fill="none" stroke="#0000ff" stroke-width="0.95"/>
<circle cx="432.97" cy="71.37" r="2.0" fill="none" stroke="#0000ff" stroke-width="0.95"/>
<circle cx="435.33" cy="71.77" r="2.0" fill="none" stroke="#0000ff" stroke-width="0.95"/>
<circle cx="437.4" cy="72.87" r="2.0" fill="none" stroke="#0000ff" stroke-width="0.95"/>
<circle cx="439.09" cy="74.5" r="2.0" fill="none" stroke="#0000ff" stroke-width="0.95"/>
<circle cx="440.16" cy="76.61" r="2.0" fill="none" stroke="#0000ff" stroke-width="0.95"/>
<circle cx="442.53" cy="77.01" r="2.0" fill="none" stroke="#0000ff" stroke-width="0.95"/>
<circle cx="444.59" cy="77.89" r="2.0" fill="none" stroke="#0000ff" stroke-width="0.95"/>
<circle cx="445.91" cy="79.89" r="2.0" fill="none" stroke="#0000ff" stroke-width="0.95"/>
<circle cx="447.44" cy="81.65" r="2.0" fill="none" stroke="#0000ff" stroke-width="0.95"/>
<circle cx="449.62" cy="82.66" r="2.0" fill="none" stroke="#0000ff" stroke-width="0.95"/>
<circle cx="481.7" cy="89" r="1.8" fill="none" stroke="#0000ff" stroke-width="0.85"/>
<circle cx="484" cy="90.1" r="1.8" fill="none" stroke="#0000ff" stroke-width="0.85"/>
<circle cx="494.9" cy="94.2" r="1.8" fill="none" stroke="#0000ff" stroke-width="0.85"/>
<circle cx="496.6" cy="95" r="1.8" fill="none" stroke="#0000ff" stroke-width="0.85"/>
<circle cx="497.5" cy="97.7" r="1.8" fill="none" stroke="#0000ff" stroke-width="0.85"/>
<circle cx="594.4" cy="143.8" r="1.8" fill="none" stroke="#0000ff" stroke-width="0.85"/>
<path d="M387.02,38.79H392.02M389.52,36.69V40.89" stroke="#0000ff" stroke-width="1.2" fill="none"/>
<rect x="388.02" y="37.49" width="3" height="2.6" rx="0.7" fill="#0000ff"/>
<path d="M389.93,42.02H394.93M392.43,39.92V44.12" stroke="#0000ff" stroke-width="1.2" fill="none"/>
<rect x="390.93" y="40.72" width="3" height="2.6" rx="0.7" fill="#0000ff"/>
<path d="M392.55,45.67H397.55M395.05,43.57V47.77" stroke="#0000ff" stroke-width="1.2" fill="none"/>
<rect x="393.55" y="44.37" width="3" height="2.6" rx="0.7" fill="#0000ff"/>
<path d="M394.9,49.51H399.9M397.4,47.41V51.61" stroke="#0000ff" stroke-width="1.2" fill="none"/>
<rect x="395.9" y="48.21" width="3" height="2.6" rx="0.7" fill="#0000ff"/>
<path d="M397.41,53.24H402.41M399.91,51.14V55.34" stroke="#0000ff" stroke-width="1.2" fill="none"/>
<rect x="398.41" y="51.94" width="3" height="2.6" rx="0.7" fill="#0000ff"/>
<path d="M400.71,56.24H405.71M403.21,54.14V58.34" stroke="#0000ff" stroke-width="1.2" fill="none"/>
<rect x="401.71" y="54.94" width="3" height="2.6" rx="0.7" fill="#0000ff"/>
<path d="M404.32,58.92H409.32M406.82,56.82V61.02" stroke="#0000ff" stroke-width="1.2" fill="none"/>
<rect x="405.32" y="57.62" width="3" height="2.6" rx="0.7" fill="#0000ff"/>
<path d="M407.55,62.05H412.55M410.05,59.95V64.15" stroke="#0000ff" stroke-width="1.2" fill="none"/>
<rect x="408.55" y="60.75" width="3" height="2.6" rx="0.7" fill="#0000ff"/>
<path d="M411.23,64.62H416.23M413.73,62.52V66.72" stroke="#0000ff" stroke-width="1.2" fill="none"/>
<rect x="412.23" y="63.32" width="3" height="2.6" rx="0.7" fill="#0000ff"/>
<path d="M415.18,66.77H420.18M417.68,64.67V68.87" stroke="#0000ff" stroke-width="1.2" fill="none"/>
<rect x="416.18" y="65.47" width="3" height="2.6" rx="0.7" fill="#0000ff"/>
<path d="M380.6,34.6H385.6M383.1,32.5V36.7" stroke="#0000ff" stroke-width="1.2" fill="none"/>
<rect x="381.6" y="33.3" width="3" height="2.6" rx="0.7" fill="#0000ff"/>
<path d="M382.5,35.2H387.5M385,33.1V37.3" stroke="#0000ff" stroke-width="1.2" fill="none"/>
<rect x="383.5" y="33.9" width="3" height="2.6" rx="0.7" fill="#0000ff"/>
<path d="M422.3,68.5H427.3M424.8,66.4V70.6" stroke="#0000ff" stroke-width="1.2" fill="none"/>
<rect x="423.3" y="67.2" width="3" height="2.6" rx="0.7" fill="#0000ff"/>
<path d="M426.4,68.5H431.4M428.9,66.4V70.6" stroke="#0000ff" stroke-width="1.2" fill="none"/>
<rect x="427.4" y="67.2" width="3" height="2.6" rx="0.7" fill="#0000ff"/>
<path d="M433.4,71.9H438.4M435.9,69.8V74" stroke="#0000ff" stroke-width="1.2" fill="none"/>
<rect x="434.4" y="70.6" width="3" height="2.6" rx="0.7" fill="#0000ff"/>
<path d="M439,76.2H444M441.5,74.1V78.3" stroke="#0000ff" stroke-width="1.2" fill="none"/>
<rect x="440" y="74.9" width="3" height="2.6" rx="0.7" fill="#0000ff"/>
<path d="M449.9,83.2H454.9M452.4,81.1V85.3" stroke="#0000ff" stroke-width="1.2" fill="none"/>
<rect x="450.9" y="81.9" width="3" height="2.6" rx="0.7" fill="#0000ff"/>
<path d="M452.5,83.2H457.5M455,81.1V85.3" stroke="#0000ff" stroke-width="1.2" fill="none"/>
<rect x="453.5" y="81.9" width="3" height="2.6" rx="0.7" fill="#0000ff"/>
<path d="M455.3,83.2H460.3M457.8,81.1V85.3" stroke="#0000ff" stroke-width="1.2" fill="none"/>
<rect x="456.3" y="81.9" width="3" height="2.6" rx="0.7" fill="#0000ff"/>
<path d="M456.8,83.2H461.8M459.3,81.1V85.3" stroke="#0000ff" stroke-width="1.2" fill="none"/>
<rect x="457.8" y="81.9" width="3" height="2.6" rx="0.7" fill="#0000ff"/>
<path d="M459,83.2H464M461.5,81.1V85.3" stroke="#0000ff" stroke-width="1.2" fill="none"/>
<rect x="460" y="81.9" width="3" height="2.6" rx="0.7" fill="#0000ff"/>
<path d="M461.5,83.2H466.5M464,81.1V85.3" stroke="#0000ff" stroke-width="1.2" fill="none"/>
<rect x="462.5" y="81.9" width="3" height="2.6" rx="0.7" fill="#0000ff"/>
<path d="M464.5,83.2H469.5M467,81.1V85.3" stroke="#0000ff" stroke-width="1.2" fill="none"/>
<rect x="465.5" y="81.9" width="3" height="2.6" rx="0.7" fill="#0000ff"/>
<path d="M466.1,87.8H471.1M468.6,85.7V89.9" stroke="#0000ff" stroke-width="1.2" fill="none"/>
<rect x="467.1" y="86.5" width="3" height="2.6" rx="0.7" fill="#0000ff"/>
<path d="M468,87.8H473M470.5,85.7V89.9" stroke="#0000ff" stroke-width="1.2" fill="none"/>
<rect x="469" y="86.5" width="3" height="2.6" rx="0.7" fill="#0000ff"/>
<path d="M470,87.8H475M472.5,85.7V89.9" stroke="#0000ff" stroke-width="1.2" fill="none"/>
<rect x="471" y="86.5" width="3" height="2.6" rx="0.7" fill="#0000ff"/>
<path d="M472,87.8H477M474.5,85.7V89.9" stroke="#0000ff" stroke-width="1.2" fill="none"/>
<rect x="473" y="86.5" width="3" height="2.6" rx="0.7" fill="#0000ff"/>
<path d="M473.8,87.8H478.8M476.3,85.7V89.9" stroke="#0000ff" stroke-width="1.2" fill="none"/>
<rect x="474.8" y="86.5" width="3" height="2.6" rx="0.7" fill="#0000ff"/>
<path d="M475.5,87.8H480.5M478,85.7V89.9" stroke="#0000ff" stroke-width="1.2" fill="none"/>
<rect x="476.5" y="86.5" width="3" height="2.6" rx="0.7" fill="#0000ff"/>
<path d="M484,91.2H489M486.5,89.1V93.3" stroke="#0000ff" stroke-width="1.2" fill="none"/>
<rect x="485" y="89.9" width="3" height="2.6" rx="0.7" fill="#0000ff"/>
<path d="M486,91.2H491M488.5,89.1V93.3" stroke="#0000ff" stroke-width="1.2" fill="none"/>
<rect x="487" y="89.9" width="3" height="2.6" rx="0.7" fill="#0000ff"/>
<path d="M488,91.2H493M490.5,89.1V93.3" stroke="#0000ff" stroke-width="1.2" fill="none"/>
<rect x="489" y="89.9" width="3" height="2.6" rx="0.7" fill="#0000ff"/>
<path d="M490,91.2H495M492.5,89.1V93.3" stroke="#0000ff" stroke-width="1.2" fill="none"/>
<rect x="491" y="89.9" width="3" height="2.6" rx="0.7" fill="#0000ff"/>
<path d="M495.2,97.7H500.2M497.7,95.6V99.8" stroke="#0000ff" stroke-width="1.2" fill="none"/>
<rect x="496.2" y="96.4" width="3" height="2.6" rx="0.7" fill="#0000ff"/>
<path d="M498.1,97.7H503.1M500.6,95.6V99.8" stroke="#0000ff" stroke-width="1.2" fill="none"/>
<rect x="499.1" y="96.4" width="3" height="2.6" rx="0.7" fill="#0000ff"/>
<path d="M501,97.7H506M503.5,95.6V99.8" stroke="#0000ff" stroke-width="1.2" fill="none"/>
<rect x="502" y="96.4" width="3" height="2.6" rx="0.7" fill="#0000ff"/>
<path d="M503.9,97.7H508.9M506.4,95.6V99.8" stroke="#0000ff" stroke-width="1.2" fill="none"/>
<rect x="504.9" y="96.4" width="3" height="2.6" rx="0.7" fill="#0000ff"/>
<path d="M506.8,97.7H511.8M509.3,95.6V99.8" stroke="#0000ff" stroke-width="1.2" fill="none"/>
<rect x="507.8" y="96.4" width="3" height="2.6" rx="0.7" fill="#0000ff"/>
<path d="M509.7,97.7H514.7M512.2,95.6V99.8" stroke="#0000ff" stroke-width="1.2" fill="none"/>
<rect x="510.7" y="96.4" width="3" height="2.6" rx="0.7" fill="#0000ff"/>
<path d="M512.6,97.7H517.6M515.1,95.6V99.8" stroke="#0000ff" stroke-width="1.2" fill="none"/>
<rect x="513.6" y="96.4" width="3" height="2.6" rx="0.7" fill="#0000ff"/>
<path d="M515.5,97.7H520.5M518,95.6V99.8" stroke="#0000ff" stroke-width="1.2" fill="none"/>
<rect x="516.5" y="96.4" width="3" height="2.6" rx="0.7" fill="#0000ff"/>
<path d="M518.4,97.7H523.4M520.9,95.6V99.8" stroke="#0000ff" stroke-width="1.2" fill="none"/>
<rect x="519.4" y="96.4" width="3" height="2.6" rx="0.7" fill="#0000ff"/>
<path d="M521.3,97.7H526.3M523.8,95.6V99.8" stroke="#0000ff" stroke-width="1.2" fill="none"/>
<rect x="522.3" y="96.4" width="3" height="2.6" rx="0.7" fill="#0000ff"/>
<path d="M524.2,97.7H529.2M526.7,95.6V99.8" stroke="#0000ff" stroke-width="1.2" fill="none"/>
<rect x="525.2" y="96.4" width="3" height="2.6" rx="0.7" fill="#0000ff"/>
<path d="M528.7,97.7H533.7M531.2,95.6V99.8" stroke="#0000ff" stroke-width="1.2" fill="none"/>
<rect x="529.7" y="96.4" width="3" height="2.6" rx="0.7" fill="#0000ff"/>
<path d="M530.8,97.7H535.8M533.3,95.6V99.8" stroke="#0000ff" stroke-width="1.2" fill="none"/>
<rect x="531.8" y="96.4" width="3" height="2.6" rx="0.7" fill="#0000ff"/>
<path d="M533.1,97.7H538.1M535.6,95.6V99.8" stroke="#0000ff" stroke-width="1.2" fill="none"/>
<rect x="534.1" y="96.4" width="3" height="2.6" rx="0.7" fill="#0000ff"/>
<path d="M539.9,97.7H544.9M542.4,95.6V99.8" stroke="#0000ff" stroke-width="1.2" fill="none"/>
<rect x="540.9" y="96.4" width="3" height="2.6" rx="0.7" fill="#0000ff"/>
<path d="M541.6,97.7H546.6M544.1,95.6V99.8" stroke="#0000ff" stroke-width="1.2" fill="none"/>
<rect x="542.6" y="96.4" width="3" height="2.6" rx="0.7" fill="#0000ff"/>
<path d="M547.6,97.7H552.6M550.1,95.6V99.8" stroke="#0000ff" stroke-width="1.2" fill="none"/>
<rect x="548.6" y="96.4" width="3" height="2.6" rx="0.7" fill="#0000ff"/>
<path d="M553.4,97.7H558.4M555.9,95.6V99.8" stroke="#0000ff" stroke-width="1.2" fill="none"/>
<rect x="554.4" y="96.4" width="3" height="2.6" rx="0.7" fill="#0000ff"/>
<path d="M562.1,97.7H567.1M564.6,95.6V99.8" stroke="#0000ff" stroke-width="1.2" fill="none"/>
<rect x="563.1" y="96.4" width="3" height="2.6" rx="0.7" fill="#0000ff"/>
<path d="M582.9,97.7H587.9M585.4,95.6V99.8" stroke="#0000ff" stroke-width="1.2" fill="none"/>
<rect x="583.9" y="96.4" width="3" height="2.6" rx="0.7" fill="#0000ff"/>
<path d="M606.2,143.8H611.2M608.7,141.7V145.9" stroke="#0000ff" stroke-width="1.2" fill="none"/>
<rect x="607.2" y="142.5" width="3" height="2.6" rx="0.7" fill="#0000ff"/>
<path d="M643.3,143.8H648.3M645.8,141.7V145.9" stroke="#0000ff" stroke-width="1.2" fill="none"/>
<rect x="644.3" y="142.5" width="3" height="2.6" rx="0.7" fill="#0000ff"/>
<path d="M379.5,34.5H383.5V41.5H389.5V47.5H390.5V53.5H390.5V59.5H393.5V66.5H393.5V72.5H395.5V79.5H401.5V85.5H402.5V91.5H435.5V99.5H464.5V108.5H473.5V118.5H567.5V118.5" fill="none" stroke="#ff5050" stroke-width="1" stroke-dasharray="1.8 1.9"/>
<circle cx="383.7" cy="41" r="1.8" fill="none" stroke="#ff0000" stroke-width="0.85"/>
<circle cx="389.5" cy="47.4" r="1.8" fill="none" stroke="#ff0000" stroke-width="0.85"/>
<circle cx="390.1" cy="53.2" r="1.8" fill="none" stroke="#ff0000" stroke-width="0.85"/>
<circle cx="390.5" cy="59.4" r="1.8" fill="none" stroke="#ff0000" stroke-width="0.85"/>
<circle cx="393.3" cy="66.6" r="1.8" fill="none" stroke="#ff0000" stroke-width="0.85"/>
<circle cx="393.9" cy="72.4" r="1.8" fill="none" stroke="#ff0000" stroke-width="0.85"/>
<circle cx="395.1" cy="79.3" r="1.8" fill="none" stroke="#ff0000" stroke-width="0.85"/>
<circle cx="401.7" cy="85" r="1.8" fill="none" stroke="#ff0000" stroke-width="0.85"/>
<circle cx="402.8" cy="91.6" r="1.8" fill="none" stroke="#ff0000" stroke-width="0.85"/>
<circle cx="435.4" cy="99.2" r="1.8" fill="none" stroke="#ff0000" stroke-width="0.85"/>
<circle cx="464.2" cy="108.6" r="1.8" fill="none" stroke="#ff0000" stroke-width="0.85"/>
<path d="M393.3,79.3H398.3M395.8,77.2V81.4" stroke="#ff0000" stroke-width="1.2" fill="none"/>
<rect x="394.3" y="78" width="3" height="2.6" rx="0.7" fill="#ff0000"/>
<path d="M406.8,91.6H411.8M409.3,89.5V93.7" stroke="#ff0000" stroke-width="1.2" fill="none"/>
<rect x="407.8" y="90.3" width="3" height="2.6" rx="0.7" fill="#ff0000"/>
<path d="M412.6,91.6H417.6M415.1,89.5V93.7" stroke="#ff0000" stroke-width="1.2" fill="none"/>
<rect x="413.6" y="90.3" width="3" height="2.6" rx="0.7" fill="#ff0000"/>
<path d="M450.9,99.2H455.9M453.4,97.1V101.3" stroke="#ff0000" stroke-width="1.2" fill="none"/>
<rect x="451.9" y="97.9" width="3" height="2.6" rx="0.7" fill="#ff0000"/>
<path d="M455.9,99.2H460.9M458.4,97.1V101.3" stroke="#ff0000" stroke-width="1.2" fill="none"/>
<rect x="456.9" y="97.9" width="3" height="2.6" rx="0.7" fill="#ff0000"/>
<path d="M459.9,99.2H464.9M462.4,97.1V101.3" stroke="#ff0000" stroke-width="1.2" fill="none"/>
<rect x="460.9" y="97.9" width="3" height="2.6" rx="0.7" fill="#ff0000"/>
<path d="M470.8,118.5H475.8M473.3,116.4V120.6" stroke="#ff0000" stroke-width="1.2" fill="none"/>
<rect x="471.8" y="117.2" width="3" height="2.6" rx="0.7" fill="#ff0000"/>
<path d="M481.8,118.5H486.8M484.3,116.4V120.6" stroke="#ff0000" stroke-width="1.2" fill="none"/>
<rect x="482.8" y="117.2" width="3" height="2.6" rx="0.7" fill="#ff0000"/>
<path d="M487,118.5H492M489.5,116.4V120.6" stroke="#ff0000" stroke-width="1.2" fill="none"/>
<rect x="488" y="117.2" width="3" height="2.6" rx="0.7" fill="#ff0000"/>
<path d="M496.4,118.5H501.4M498.9,116.4V120.6" stroke="#ff0000" stroke-width="1.2" fill="none"/>
<rect x="497.4" y="117.2" width="3" height="2.6" rx="0.7" fill="#ff0000"/>
<path d="M524.2,118.5H529.2M526.7,116.4V120.6" stroke="#ff0000" stroke-width="1.2" fill="none"/>
<rect x="525.2" y="117.2" width="3" height="2.6" rx="0.7" fill="#ff0000"/>
<path d="M537.3,118.5H542.3M539.8,116.4V120.6" stroke="#ff0000" stroke-width="1.2" fill="none"/>
<rect x="538.3" y="117.2" width="3" height="2.6" rx="0.7" fill="#ff0000"/>
<path d="M548.7,118.5H553.7M551.2,116.4V120.6" stroke="#ff0000" stroke-width="1.2" fill="none"/>
<rect x="549.7" y="117.2" width="3" height="2.6" rx="0.7" fill="#ff0000"/>
<path d="M565.1,118.5H570.1M567.6,116.4V120.6" stroke="#ff0000" stroke-width="1.2" fill="none"/>
<rect x="566.1" y="117.2" width="3" height="2.6" rx="0.7" fill="#ff0000"/>
<path d="M379.5,34.5H389.5V41.5H391.5V48.5H394.5V55.5H400.5V62.5H410.5V69.5H413.5V76.5H416.5V84.5H418.5V91.5H429.5V99.5H445.5V108.5H460.5V118.5H468.5V127.5H502.5V141.5H586.5V141.5" fill="none" stroke="#78c078" stroke-width="1" stroke-dasharray="2.2 1.3"/>
<circle cx="389.5" cy="41.6" r="1.8" fill="none" stroke="#008000" stroke-width="0.85"/>
<circle cx="391.8" cy="48.5" r="1.8" fill="none" stroke="#008000" stroke-width="0.85"/>
<circle cx="394" cy="55.8" r="1.8" fill="none" stroke="#008000" stroke-width="0.85"/>
<circle cx="400.5" cy="62.4" r="1.8" fill="none" stroke="#008000" stroke-width="0.85"/>
<circle cx="410.4" cy="69.5" r="1.8" fill="none" stroke="#008000" stroke-width="0.85"/>
<circle cx="413" cy="76.4" r="1.8" fill="none" stroke="#008000" stroke-width="0.85"/>
<circle cx="416.6" cy="84.2" r="1.8" fill="none" stroke="#008000" stroke-width="0.85"/>
<circle cx="418.2" cy="91.6" r="1.8" fill="none" stroke="#008000" stroke-width="0.85"/>
<circle cx="429" cy="99.2" r="1.8" fill="none" stroke="#008000" stroke-width="0.85"/>
<circle cx="445.8" cy="108.5" r="1.8" fill="none" stroke="#008000" stroke-width="0.85"/>
<circle cx="460.7" cy="118" r="1.8" fill="none" stroke="#008000" stroke-width="0.85"/>
<path d="M403.4,62.4H408.4M405.9,60.3V64.5" stroke="#008000" stroke-width="1.2" fill="none"/>
<rect x="404.4" y="61.1" width="3" height="2.6" rx="0.7" fill="#008000"/>
<path d="M418.8,91.6H423.8M421.3,89.5V93.7" stroke="#008000" stroke-width="1.2" fill="none"/>
<rect x="419.8" y="90.3" width="3" height="2.6" rx="0.7" fill="#008000"/>
<path d="M434.7,99.2H439.7M437.2,97.1V101.3" stroke="#008000" stroke-width="1.2" fill="none"/>
<rect x="435.7" y="97.9" width="3" height="2.6" rx="0.7" fill="#008000"/>
<path d="M437.9,99.2H442.9M440.4,97.1V101.3" stroke="#008000" stroke-width="1.2" fill="none"/>
<rect x="438.9" y="97.9" width="3" height="2.6" rx="0.7" fill="#008000"/>
<path d="M442.2,99.2H447.2M444.7,97.1V101.3" stroke="#008000" stroke-width="1.2" fill="none"/>
<rect x="443.2" y="97.9" width="3" height="2.6" rx="0.7" fill="#008000"/>
<path d="M450.7,108.5H455.7M453.2,106.4V110.6" stroke="#008000" stroke-width="1.2" fill="none"/>
<rect x="451.7" y="107.2" width="3" height="2.6" rx="0.7" fill="#008000"/>
<path d="M465.6,127.9H470.6M468.1,125.8V130" stroke="#008000" stroke-width="1.2" fill="none"/>
<rect x="466.6" y="126.6" width="3" height="2.6" rx="0.7" fill="#008000"/>
<path d="M467.3,127.9H472.3M469.8,125.8V130" stroke="#008000" stroke-width="1.2" fill="none"/>
<rect x="468.3" y="126.6" width="3" height="2.6" rx="0.7" fill="#008000"/>
<path d="M494.7,127.9H499.7M497.2,125.8V130" stroke="#008000" stroke-width="1.2" fill="none"/>
<rect x="495.7" y="126.6" width="3" height="2.6" rx="0.7" fill="#008000"/>
<path d="M497.9,127.9H502.9M500.4,125.8V130" stroke="#008000" stroke-width="1.2" fill="none"/>
<rect x="498.9" y="126.6" width="3" height="2.6" rx="0.7" fill="#008000"/>
<path d="M500.2,141.7H505.2M502.7,139.6V143.8" stroke="#008000" stroke-width="1.2" fill="none"/>
<rect x="501.2" y="140.4" width="3" height="2.6" rx="0.7" fill="#008000"/>
<path d="M507.2,141.7H512.2M509.7,139.6V143.8" stroke="#008000" stroke-width="1.2" fill="none"/>
<rect x="508.2" y="140.4" width="3" height="2.6" rx="0.7" fill="#008000"/>
<path d="M510.3,141.7H515.3M512.8,139.6V143.8" stroke="#008000" stroke-width="1.2" fill="none"/>
<rect x="511.3" y="140.4" width="3" height="2.6" rx="0.7" fill="#008000"/>
<path d="M525,141.7H530M527.5,139.6V143.8" stroke="#008000" stroke-width="1.2" fill="none"/>
<rect x="526" y="140.4" width="3" height="2.6" rx="0.7" fill="#008000"/>
<path d="M528.8,141.7H533.8M531.3,139.6V143.8" stroke="#008000" stroke-width="1.2" fill="none"/>
<rect x="529.8" y="140.4" width="3" height="2.6" rx="0.7" fill="#008000"/>
<path d="M563.4,141.7H568.4M565.9,139.6V143.8" stroke="#008000" stroke-width="1.2" fill="none"/>
<rect x="564.4" y="140.4" width="3" height="2.6" rx="0.7" fill="#008000"/>
<path d="M584.2,141.7H589.2M586.7,139.6V143.8" stroke="#008000" stroke-width="1.2" fill="none"/>
<rect x="585.2" y="140.4" width="3" height="2.6" rx="0.7" fill="#008000"/>
<path d="M379.5,35.5H381.5V40.5H383.5V46.5H385.5V53.5H386.5V59.5H387.5V62.5H389.5V67.5H391.5V73.5H392.5V78.5H393.5V85.5H396.5V91.5H398.5V96.5H400.5V100.5H403.5V104.5H405.5V107.5H407.5V112.5H410.5V117.5H414.5V121.5H419.5V126.5H421.5V132.5H424.5V136.5H429.5V139.5H434.5V141.5H440.5V143.5H443.5V148.5H447.5V151.5H452.5V155.5H456.5V156.5H460.5V157.5H461.5V161.5H464.5V164.5H467.5V166.5H471.5V168.5H473.5V169.5H476.5V173.5H489.5V176.5H501.5V180.5H503.5V185.5H515.5V190.5H520.5V196.5H532.5V202.5H544.5V214.5H589.5V214.5" fill="none" stroke="#ff50ff" stroke-width="1" stroke-dasharray="10 3.5"/>
<circle cx="380.22" cy="37.1" r="1.9" fill="none" stroke="#ff00ff" stroke-width="0.8"/>
<circle cx="380.84" cy="39" r="1.9" fill="none" stroke="#ff00ff" stroke-width="0.8"/>
<circle cx="381.46" cy="40.9" r="1.9" fill="none" stroke="#ff00ff" stroke-width="0.8"/>
<circle cx="382.09" cy="42.8" r="1.9" fill="none" stroke="#ff00ff" stroke-width="0.8"/>
<circle cx="382.71" cy="44.7" r="1.9" fill="none" stroke="#ff00ff" stroke-width="0.8"/>
<circle cx="383.32" cy="46.61" r="1.9" fill="none" stroke="#ff00ff" stroke-width="0.8"/>
<circle cx="383.87" cy="48.53" r="1.9" fill="none" stroke="#ff00ff" stroke-width="0.8"/>
<circle cx="384.42" cy="50.46" r="1.9" fill="none" stroke="#ff00ff" stroke-width="0.8"/>
<circle cx="384.97" cy="52.38" r="1.9" fill="none" stroke="#ff00ff" stroke-width="0.8"/>
<circle cx="385.36" cy="54.34" r="1.9" fill="none" stroke="#ff00ff" stroke-width="0.8"/>
<circle cx="385.63" cy="56.32" r="1.9" fill="none" stroke="#ff00ff" stroke-width="0.8"/>
<circle cx="385.9" cy="58.3" r="1.9" fill="none" stroke="#ff00ff" stroke-width="0.8"/>
<circle cx="386.41" cy="60.22" r="1.9" fill="none" stroke="#ff00ff" stroke-width="0.8"/>
<circle cx="387.05" cy="62.12" r="1.9" fill="none" stroke="#ff00ff" stroke-width="0.8"/>
<circle cx="387.8" cy="63.97" r="1.9" fill="none" stroke="#ff00ff" stroke-width="0.8"/>
<circle cx="388.54" cy="65.83" r="1.9" fill="none" stroke="#ff00ff" stroke-width="0.8"/>
<circle cx="389.29" cy="67.68" r="1.9" fill="none" stroke="#ff00ff" stroke-width="0.8"/>
<circle cx="390.03" cy="69.54" r="1.9" fill="none" stroke="#ff00ff" stroke-width="0.8"/>
<circle cx="390.77" cy="71.4" r="1.9" fill="none" stroke="#ff00ff" stroke-width="0.8"/>
<circle cx="391.51" cy="73.26" r="1.9" fill="none" stroke="#ff00ff" stroke-width="0.8"/>
<circle cx="392" cy="75.2" r="1.9" fill="none" stroke="#ff00ff" stroke-width="0.8"/>
<circle cx="392.45" cy="77.14" r="1.9" fill="none" stroke="#ff00ff" stroke-width="0.8"/>
<circle cx="392.86" cy="79.1" r="1.9" fill="none" stroke="#ff00ff" stroke-width="0.8"/>
<circle cx="393.21" cy="81.07" r="1.9" fill="none" stroke="#ff00ff" stroke-width="0.8"/>
<circle cx="393.55" cy="83.04" r="1.9" fill="none" stroke="#ff00ff" stroke-width="0.8"/>
<circle cx="393.9" cy="85.01" r="1.9" fill="none" stroke="#ff00ff" stroke-width="0.8"/>
<circle cx="394.73" cy="86.83" r="1.9" fill="none" stroke="#ff00ff" stroke-width="0.8"/>
<circle cx="395.56" cy="88.65" r="1.9" fill="none" stroke="#ff00ff" stroke-width="0.8"/>
<circle cx="396.39" cy="90.47" r="1.9" fill="none" stroke="#ff00ff" stroke-width="0.8"/>
<circle cx="397.16" cy="92.31" r="1.9" fill="none" stroke="#ff00ff" stroke-width="0.8"/>
<circle cx="397.86" cy="94.19" r="1.9" fill="none" stroke="#ff00ff" stroke-width="0.8"/>
<circle cx="398.55" cy="96.07" r="1.9" fill="none" stroke="#ff00ff" stroke-width="0.8"/>
<circle cx="399.26" cy="97.93" r="1.9" fill="none" stroke="#ff00ff" stroke-width="0.8"/>
<circle cx="399.98" cy="99.8" r="1.9" fill="none" stroke="#ff00ff" stroke-width="0.8"/>
<circle cx="400.99" cy="101.47" r="1.9" fill="none" stroke="#ff00ff" stroke-width="0.8"/>
<circle cx="402.43" cy="102.87" r="1.9" fill="none" stroke="#ff00ff" stroke-width="0.8"/>
<circle cx="403.86" cy="104.26" r="1.9" fill="none" stroke="#ff00ff" stroke-width="0.8"/>
<circle cx="404.74" cy="106.05" r="1.9" fill="none" stroke="#ff00ff" stroke-width="0.8"/>
<circle cx="405.51" cy="107.9" r="1.9" fill="none" stroke="#ff00ff" stroke-width="0.8"/>
<circle cx="406.16" cy="109.79" r="1.9" fill="none" stroke="#ff00ff" stroke-width="0.8"/>
<circle cx="406.82" cy="111.68" r="1.9" fill="none" stroke="#ff00ff" stroke-width="0.8"/>
<circle cx="407.79" cy="113.41" r="1.9" fill="none" stroke="#ff00ff" stroke-width="0.8"/>
<circle cx="408.89" cy="115.08" r="1.9" fill="none" stroke="#ff00ff" stroke-width="0.8"/>
<circle cx="409.98" cy="116.76" r="1.9" fill="none" stroke="#ff00ff" stroke-width="0.8"/>
<circle cx="411.28" cy="118.26" r="1.9" fill="none" stroke="#ff00ff" stroke-width="0.8"/>
<circle cx="412.71" cy="119.66" r="1.9" fill="none" stroke="#ff00ff" stroke-width="0.8"/>
<circle cx="414.14" cy="121.06" r="1.9" fill="none" stroke="#ff00ff" stroke-width="0.8"/>
<circle cx="415.55" cy="122.47" r="1.9" fill="none" stroke="#ff00ff" stroke-width="0.8"/>
<circle cx="416.95" cy="123.9" r="1.9" fill="none" stroke="#ff00ff" stroke-width="0.8"/>
<circle cx="418.35" cy="125.33" r="1.9" fill="none" stroke="#ff00ff" stroke-width="0.8"/>
<circle cx="419.46" cy="126.95" r="1.9" fill="none" stroke="#ff00ff" stroke-width="0.8"/>
<circle cx="420.25" cy="128.79" r="1.9" fill="none" stroke="#ff00ff" stroke-width="0.8"/>
<circle cx="421.03" cy="130.63" r="1.9" fill="none" stroke="#ff00ff" stroke-width="0.8"/>
<circle cx="421.85" cy="132.45" r="1.9" fill="none" stroke="#ff00ff" stroke-width="0.8"/>
<circle cx="422.89" cy="134.17" r="1.9" fill="none" stroke="#ff00ff" stroke-width="0.8"/>
<circle cx="423.92" cy="135.88" r="1.9" fill="none" stroke="#ff00ff" stroke-width="0.8"/>
<circle cx="427.24" cy="137.94" r="1.9" fill="none" stroke="#ff00ff" stroke-width="0.8"/>
<circle cx="429.84" cy="139.22" r="1.9" fill="none" stroke="#ff00ff" stroke-width="0.8"/>
<circle cx="432.43" cy="140.52" r="1.9" fill="none" stroke="#ff00ff" stroke-width="0.8"/>
<circle cx="435.05" cy="141.77" r="1.9" fill="none" stroke="#ff00ff" stroke-width="0.8"/>
<circle cx="437.85" cy="142.52" r="1.9" fill="none" stroke="#ff00ff" stroke-width="0.8"/>
<circle cx="440.39" cy="143.64" r="1.9" fill="none" stroke="#ff00ff" stroke-width="0.8"/>
<circle cx="442.07" cy="146" r="1.9" fill="none" stroke="#ff00ff" stroke-width="0.8"/>
<circle cx="443.85" cy="148.28" r="1.9" fill="none" stroke="#ff00ff" stroke-width="0.8"/>
<circle cx="446.1" cy="150.11" r="1.9" fill="none" stroke="#ff00ff" stroke-width="0.8"/>
<circle cx="448.35" cy="151.94" r="1.9" fill="none" stroke="#ff00ff" stroke-width="0.8"/>
<circle cx="450.62" cy="153.74" r="1.9" fill="none" stroke="#ff00ff" stroke-width="0.8"/>
<circle cx="453.02" cy="155.32" r="1.9" fill="none" stroke="#ff00ff" stroke-width="0.8"/>
<circle cx="455.72" cy="156.39" r="1.9" fill="none" stroke="#ff00ff" stroke-width="0.8"/>
<circle cx="458.49" cy="157.21" r="1.9" fill="none" stroke="#ff00ff" stroke-width="0.8"/>
<circle cx="460.59" cy="158.81" r="1.9" fill="none" stroke="#ff00ff" stroke-width="0.8"/>
<circle cx="461.91" cy="161.38" r="1.9" fill="none" stroke="#ff00ff" stroke-width="0.8"/>
<circle cx="463.64" cy="163.71" r="1.9" fill="none" stroke="#ff00ff" stroke-width="0.8"/>
<circle cx="465.91" cy="165.38" r="1.9" fill="none" stroke="#ff00ff" stroke-width="0.8"/>
<circle cx="468.52" cy="166.65" r="1.9" fill="none" stroke="#ff00ff" stroke-width="0.8"/>
<circle cx="471.13" cy="167.92" r="1.9" fill="none" stroke="#ff00ff" stroke-width="0.8"/>
<circle cx="473.53" cy="169.54" r="1.9" fill="none" stroke="#ff00ff" stroke-width="0.8"/>
<circle cx="475.36" cy="171.77" r="1.9" fill="none" stroke="#ff00ff" stroke-width="0.8"/>
<circle cx="489.6" cy="176.6" r="1.8" fill="none" stroke="#ff00ff" stroke-width="0.85"/>
<circle cx="501.8" cy="180.8" r="1.8" fill="none" stroke="#ff00ff" stroke-width="0.85"/>
<circle cx="503.9" cy="185.3" r="1.8" fill="none" stroke="#ff00ff" stroke-width="0.85"/>
<circle cx="515.7" cy="190.9" r="1.8" fill="none" stroke="#ff00ff" stroke-width="0.85"/>
<circle cx="520.4" cy="196.8" r="1.8" fill="none" stroke="#ff00ff" stroke-width="0.85"/>
<circle cx="544" cy="214.1" r="1.8" fill="none" stroke="#ff00ff" stroke-width="0.85"/>
<path d="M440.5,144H445.5M443,141.9V146.1" stroke="#ff00ff" stroke-width="1.2" fill="none"/>
<rect x="441.5" y="142.7" width="3" height="2.6" rx="0.7" fill="#ff00ff"/>
<path d="M441.5,148H446.5M444,145.9V150.1" stroke="#ff00ff" stroke-width="1.2" fill="none"/>
<rect x="442.5" y="146.7" width="3" height="2.6" rx="0.7" fill="#ff00ff"/>
<path d="M446,151.5H451M448.5,149.4V153.6" stroke="#ff00ff" stroke-width="1.2" fill="none"/>
<rect x="447" y="150.2" width="3" height="2.6" rx="0.7" fill="#ff00ff"/>
<path d="M457,157.5H462M459.5,155.4V159.6" stroke="#ff00ff" stroke-width="1.2" fill="none"/>
<rect x="458" y="156.2" width="3" height="2.6" rx="0.7" fill="#ff00ff"/>
<path d="M460,161.5H465M462.5,159.4V163.6" stroke="#ff00ff" stroke-width="1.2" fill="none"/>
<rect x="461" y="160.2" width="3" height="2.6" rx="0.7" fill="#ff00ff"/>
<path d="M469,168.5H474M471.5,166.4V170.6" stroke="#ff00ff" stroke-width="1.2" fill="none"/>
<rect x="470" y="167.2" width="3" height="2.6" rx="0.7" fill="#ff00ff"/>
<path d="M471.5,171H476.5M474,168.9V173.1" stroke="#ff00ff" stroke-width="1.2" fill="none"/>
<rect x="472.5" y="169.7" width="3" height="2.6" rx="0.7" fill="#ff00ff"/>
<path d="M473.5,173.3H478.5M476,171.2V175.4" stroke="#ff00ff" stroke-width="1.2" fill="none"/>
<rect x="474.5" y="172" width="3" height="2.6" rx="0.7" fill="#ff00ff"/>
<path d="M497.9,179.7H502.9M500.4,177.6V181.8" stroke="#ff00ff" stroke-width="1.2" fill="none"/>
<rect x="498.9" y="178.4" width="3" height="2.6" rx="0.7" fill="#ff00ff"/>
<path d="M500,182H505M502.5,179.9V184.1" stroke="#ff00ff" stroke-width="1.2" fill="none"/>
<rect x="501" y="180.7" width="3" height="2.6" rx="0.7" fill="#ff00ff"/>
<path d="M502.3,185.3H507.3M504.8,183.2V187.4" stroke="#ff00ff" stroke-width="1.2" fill="none"/>
<rect x="503.3" y="184" width="3" height="2.6" rx="0.7" fill="#ff00ff"/>
<path d="M479.2,173.3H484.2M481.7,171.2V175.4" stroke="#ff00ff" stroke-width="1.2" fill="none"/>
<rect x="480.2" y="172" width="3" height="2.6" rx="0.7" fill="#ff00ff"/>
<path d="M485.3,173.3H490.3M487.8,171.2V175.4" stroke="#ff00ff" stroke-width="1.2" fill="none"/>
<rect x="486.3" y="172" width="3" height="2.6" rx="0.7" fill="#ff00ff"/>
<path d="M489.2,176.6H494.2M491.7,174.5V178.7" stroke="#ff00ff" stroke-width="1.2" fill="none"/>
<rect x="490.2" y="175.3" width="3" height="2.6" rx="0.7" fill="#ff00ff"/>
<path d="M491.4,176.6H496.4M493.9,174.5V178.7" stroke="#ff00ff" stroke-width="1.2" fill="none"/>
<rect x="492.4" y="175.3" width="3" height="2.6" rx="0.7" fill="#ff00ff"/>
<path d="M495.3,176.6H500.3M497.8,174.5V178.7" stroke="#ff00ff" stroke-width="1.2" fill="none"/>
<rect x="496.3" y="175.3" width="3" height="2.6" rx="0.7" fill="#ff00ff"/>
<path d="M506.6,185.3H511.6M509.1,183.2V187.4" stroke="#ff00ff" stroke-width="1.2" fill="none"/>
<rect x="507.6" y="184" width="3" height="2.6" rx="0.7" fill="#ff00ff"/>
<path d="M508.4,185.3H513.4M510.9,183.2V187.4" stroke="#ff00ff" stroke-width="1.2" fill="none"/>
<rect x="509.4" y="184" width="3" height="2.6" rx="0.7" fill="#ff00ff"/>
<path d="M529.2,196.8H534.2M531.7,194.7V198.9" stroke="#ff00ff" stroke-width="1.2" fill="none"/>
<rect x="530.2" y="195.5" width="3" height="2.6" rx="0.7" fill="#ff00ff"/>
<path d="M532.3,202.8H537.3M534.8,200.7V204.9" stroke="#ff00ff" stroke-width="1.2" fill="none"/>
<rect x="533.3" y="201.5" width="3" height="2.6" rx="0.7" fill="#ff00ff"/>
<path d="M546.4,214.1H551.4M548.9,212V216.2" stroke="#ff00ff" stroke-width="1.2" fill="none"/>
<rect x="547.4" y="212.8" width="3" height="2.6" rx="0.7" fill="#ff00ff"/>
<path d="M586.7,214.1H591.7M589.2,212V216.2" stroke="#ff00ff" stroke-width="1.2" fill="none"/>
<rect x="587.7" y="212.8" width="3" height="2.6" rx="0.7" fill="#ff00ff"/>
<line x1="194.2" y1="153.3" x2="205.3" y2="153.3" stroke="#5a5aff" stroke-width="1"/>
<text transform="translate(208.6,155.9) scale(1.0,1.15)" text-anchor="start" font-size="7.47" fill="#262626">Long/Long (164 patients, 43%)</text>
<line x1="194.2" y1="162.4" x2="205.3" y2="162.4" stroke="#ff5050" stroke-width="1" stroke-dasharray="2.2 1.4"/>
<text transform="translate(208.6,164.55) scale(1.0,1.15)" text-anchor="start" font-size="7.47" fill="#262626">Long/Short (32 patients, 8.5%)</text>
<line x1="194.2" y1="170.3" x2="205.3" y2="170.3" stroke="#78c078" stroke-width="1" stroke-dasharray="2 1 2 2 5 0"/>
<text transform="translate(208.6,173.2) scale(1.0,1.15)" text-anchor="start" font-size="7.47" fill="#262626">Short/Long (29 Patients, 8%)</text>
<line x1="194.2" y1="179.4" x2="205.3" y2="179.4" stroke="#ff50ff" stroke-width="1" stroke-dasharray="6 3"/>
<text transform="translate(208.6,181.85) scale(1.0,1.15)" text-anchor="start" font-size="7.47" fill="#262626">Short/Short (153 patients, 40.5%)</text>
<line x1="537.9" y1="42.5" x2="549.8" y2="42.5" stroke="#5a5aff" stroke-width="1"/>
<text transform="translate(553.3,45.3) scale(1.0,1.15)" text-anchor="start" font-size="7.47" fill="#262626">Long/Long (164 patients, 43%)</text>
<line x1="537.9" y1="51.4" x2="549.8" y2="51.4" stroke="#ff5050" stroke-width="1" stroke-dasharray="2.2 1.4"/>
<text transform="translate(553.3,53.9) scale(1.0,1.15)" text-anchor="start" font-size="7.47" fill="#262626">Long/Short (32 patients, 8.5%)</text>
<line x1="537.9" y1="60.3" x2="549.8" y2="60.3" stroke="#78c078" stroke-width="1" stroke-dasharray="2 1 2 2 5 0"/>
<text transform="translate(553.3,62.5) scale(1.0,1.15)" text-anchor="start" font-size="7.47" fill="#262626">Short/Long (29 Patients, 8%)</text>
<line x1="537.9" y1="68.5" x2="549.8" y2="68.5" stroke="#ff50ff" stroke-width="1" stroke-dasharray="6 3"/>
<text transform="translate(553.3,71.1) scale(1.0,1.15)" text-anchor="start" font-size="7.47" fill="#262626">Short/Short (153 patients, 40.5%)</text>
</svg>
</body></html>
